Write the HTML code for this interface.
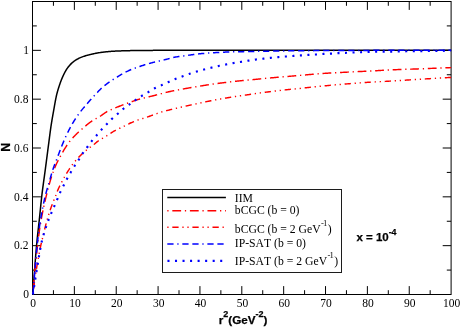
<!DOCTYPE html>
<html><head><meta charset="utf-8"><title>N vs r^2</title>
<style>
html,body{margin:0;padding:0;background:#fff;}
body{width:461px;height:327px;overflow:hidden;position:relative;font-family:"Liberation Sans",sans-serif;}
svg text{white-space:pre;font-kerning:none;}
</style></head><body>
<svg width="461" height="327" viewBox="0 0 461 327" style="position:absolute;left:0;top:0;will-change:transform">
<defs><clipPath id="c"><rect x="31.50" y="1.50" width="420.10" height="293.50"/></clipPath></defs>
<g stroke="#000" stroke-width="1" fill="none" shape-rendering="auto">
<rect x="32.50" y="1.50" width="418.60" height="293.00"/>
<path d="M53.43,294.50 v-4.30 M53.43,1.50 v4.30 M74.36,294.50 v-8.40 M74.36,1.50 v8.40 M95.29,294.50 v-4.30 M95.29,1.50 v4.30 M116.22,294.50 v-8.40 M116.22,1.50 v8.40 M137.15,294.50 v-4.30 M137.15,1.50 v4.30 M158.08,294.50 v-8.40 M158.08,1.50 v8.40 M179.01,294.50 v-4.30 M179.01,1.50 v4.30 M199.94,294.50 v-8.40 M199.94,1.50 v8.40 M220.87,294.50 v-4.30 M220.87,1.50 v4.30 M241.80,294.50 v-8.40 M241.80,1.50 v8.40 M262.73,294.50 v-4.30 M262.73,1.50 v4.30 M283.66,294.50 v-8.40 M283.66,1.50 v8.40 M304.59,294.50 v-4.30 M304.59,1.50 v4.30 M325.52,294.50 v-8.40 M325.52,1.50 v8.40 M346.45,294.50 v-4.30 M346.45,1.50 v4.30 M367.38,294.50 v-8.40 M367.38,1.50 v8.40 M388.31,294.50 v-4.30 M388.31,1.50 v4.30 M409.24,294.50 v-8.40 M409.24,1.50 v8.40 M430.17,294.50 v-4.30 M430.17,1.50 v4.30 M32.50,270.08 h4.30 M451.10,270.08 h-4.30 M32.50,245.67 h8.40 M451.10,245.67 h-8.40 M32.50,221.25 h4.30 M451.10,221.25 h-4.30 M32.50,196.83 h8.40 M451.10,196.83 h-8.40 M32.50,172.42 h4.30 M451.10,172.42 h-4.30 M32.50,148.00 h8.40 M451.10,148.00 h-8.40 M32.50,123.58 h4.30 M451.10,123.58 h-4.30 M32.50,99.17 h8.40 M451.10,99.17 h-8.40 M32.50,74.75 h4.30 M451.10,74.75 h-4.30 M32.50,50.33 h8.40 M451.10,50.33 h-8.40 M32.50,25.92 h4.30 M451.10,25.92 h-4.30"/>
</g>
<g clip-path="url(#c)" fill="none" stroke-linecap="butt" stroke-linejoin="round">
<path d="M32.90,294.50 L32.94,293.81 L32.99,293.13 L33.03,292.44 L33.08,291.75 L33.12,291.07 L33.17,290.38 L33.21,289.69 L33.26,289.01 L33.30,288.32 L33.35,287.63 L33.39,286.95 L33.44,286.26 L33.49,285.57 L33.53,284.89 L33.58,284.20 L33.63,283.52 L33.67,282.83 L33.72,282.14 L33.77,281.46 L33.82,280.77 L33.86,280.08 L33.91,279.40 L33.96,278.71 L34.01,278.02 L34.06,277.34 L34.11,276.65 L34.16,275.97 L34.21,275.28 L34.26,274.59 L34.31,273.91 L34.36,273.22 L34.41,272.53 L34.46,271.85 L34.51,271.16 L34.56,270.48 L34.61,269.79 L34.66,269.10 L34.71,268.42 L34.76,267.73 L34.81,267.05 L34.86,266.36 L34.92,265.67 L34.97,264.99 L35.02,264.30 L35.07,263.61 L35.12,262.93 L35.17,262.24 L35.23,261.56 L35.28,260.87 L35.33,260.18 L35.39,259.50 L35.44,258.81 L35.49,258.13 L35.55,257.44 L35.60,256.75 L35.66,256.07 L35.71,255.38 L35.77,254.70 L35.82,254.01 L35.88,253.33 L35.94,252.64 L35.99,251.95 L36.05,251.27 L36.11,250.58 L36.17,249.90 L36.23,249.21 L36.28,248.53 L36.34,247.84 L36.41,247.16 L36.47,246.47 L36.53,245.79 L36.59,245.10 L36.65,244.42 L36.72,243.73 L36.78,243.05 L36.85,242.36 L36.92,241.68 L36.98,240.99 L37.05,240.31 L37.12,239.62 L37.19,238.94 L37.26,238.25 L37.34,237.57 L37.41,236.89 L37.48,236.20 L37.56,235.52 L37.63,234.83 L37.70,234.15 L37.78,233.47 L37.85,232.78 L37.93,232.10 L38.01,231.41 L38.08,230.73 L38.16,230.05 L38.23,229.36 L38.31,228.68 L38.39,227.99 L38.46,227.31 L38.54,226.63 L38.62,225.94 L38.69,225.26 L38.77,224.58 L38.85,223.89 L38.92,223.21 L39.00,222.52 L39.07,221.84 L39.15,221.16 L39.22,220.47 L39.30,219.79 L39.37,219.10 L39.44,218.42 L39.52,217.74 L39.59,217.05 L39.66,216.37 L39.73,215.68 L39.80,215.00 L39.87,214.31 L39.94,213.63 L40.01,212.94 L40.08,212.26 L40.15,211.58 L40.22,210.89 L40.29,210.21 L40.36,209.52 L40.43,208.84 L40.50,208.15 L40.56,207.47 L40.63,206.78 L40.70,206.10 L40.77,205.41 L40.84,204.73 L40.91,204.04 L40.98,203.36 L41.06,202.68 L41.13,201.99 L41.20,201.31 L41.27,200.62 L41.35,199.94 L41.42,199.26 L41.49,198.57 L41.57,197.89 L41.65,197.20 L41.72,196.52 L41.80,195.84 L41.88,195.15 L41.96,194.47 L42.04,193.79 L42.13,193.11 L42.21,192.42 L42.29,191.74 L42.38,191.06 L42.47,190.37 L42.55,189.69 L42.64,189.01 L42.73,188.33 L42.82,187.65 L42.91,186.96 L43.00,186.28 L43.10,185.60 L43.19,184.92 L43.28,184.24 L43.37,183.55 L43.47,182.87 L43.56,182.19 L43.65,181.51 L43.75,180.83 L43.84,180.15 L43.94,179.46 L44.03,178.78 L44.13,178.10 L44.22,177.42 L44.32,176.74 L44.41,176.06 L44.50,175.38 L44.60,174.69 L44.69,174.01 L44.79,173.33 L44.88,172.65 L44.97,171.97 L45.06,171.28 L45.15,170.60 L45.24,169.92 L45.33,169.24 L45.42,168.56 L45.51,167.87 L45.60,167.19 L45.69,166.51 L45.78,165.83 L45.87,165.15 L45.96,164.46 L46.05,163.78 L46.14,163.10 L46.23,162.42 L46.32,161.73 L46.40,161.05 L46.49,160.37 L46.58,159.69 L46.67,159.00 L46.76,158.32 L46.85,157.64 L46.94,156.96 L47.03,156.28 L47.11,155.59 L47.20,154.91 L47.29,154.23 L47.38,153.55 L47.47,152.86 L47.56,152.18 L47.65,151.50 L47.74,150.82 L47.82,150.14 L47.91,149.45 L48.00,148.77 L48.09,148.09 L48.18,147.41 L48.27,146.72 L48.36,146.04 L48.45,145.36 L48.54,144.68 L48.63,144.00 L48.72,143.31 L48.81,142.63 L48.90,141.95 L48.99,141.27 L49.07,140.58 L49.16,139.90 L49.25,139.22 L49.34,138.54 L49.43,137.85 L49.51,137.17 L49.60,136.49 L49.69,135.81 L49.78,135.12 L49.87,134.44 L49.96,133.76 L50.05,133.08 L50.14,132.40 L50.23,131.71 L50.32,131.03 L50.42,130.35 L50.51,129.67 L50.61,128.99 L50.70,128.31 L50.80,127.63 L50.90,126.94 L51.00,126.26 L51.10,125.58 L51.21,124.90 L51.31,124.22 L51.42,123.54 L51.53,122.87 L51.63,122.19 L51.75,121.51 L51.86,120.83 L51.97,120.15 L52.09,119.47 L52.20,118.79 L52.32,118.11 L52.43,117.44 L52.55,116.76 L52.67,116.08 L52.79,115.40 L52.91,114.73 L53.03,114.05 L53.15,113.37 L53.27,112.69 L53.39,112.02 L53.51,111.34 L53.64,110.66 L53.76,109.98 L53.88,109.31 L54.00,108.63 L54.11,107.95 L54.23,107.27 L54.35,106.59 L54.47,105.91 L54.59,105.24 L54.71,104.56 L54.83,103.88 L54.95,103.20 L55.07,102.52 L55.20,101.84 L55.32,101.17 L55.45,100.49 L55.58,99.82 L55.71,99.14 L55.85,98.47 L55.99,97.79 L56.13,97.12 L56.27,96.45 L56.42,95.78 L56.57,95.11 L56.73,94.44 L56.90,93.78 L57.07,93.11 L57.24,92.45 L57.43,91.78 L57.61,91.12 L57.81,90.46 L58.00,89.79 L58.20,89.13 L58.40,88.48 L58.61,87.82 L58.82,87.16 L59.03,86.51 L59.24,85.86 L59.46,85.21 L59.68,84.55 L59.91,83.90 L60.13,83.25 L60.37,82.60 L60.60,81.95 L60.84,81.30 L61.09,80.66 L61.33,80.01 L61.59,79.37 L61.85,78.74 L62.11,78.10 L62.38,77.47 L62.66,76.84 L62.94,76.22 L63.22,75.60 L63.52,74.97 L63.82,74.35 L64.12,73.73 L64.44,73.11 L64.76,72.49 L65.08,71.88 L65.42,71.27 L65.77,70.67 L66.12,70.08 L66.48,69.49 L66.85,68.92 L67.23,68.36 L67.62,67.81 L68.02,67.26 L68.45,66.72 L68.88,66.18 L69.33,65.65 L69.80,65.13 L70.27,64.61 L70.76,64.11 L71.25,63.62 L71.75,63.15 L72.26,62.69 L72.78,62.26 L73.31,61.84 L73.84,61.42 L74.40,61.01 L74.96,60.61 L75.54,60.22 L76.13,59.84 L76.72,59.48 L77.33,59.13 L77.94,58.79 L78.55,58.47 L79.16,58.17 L79.78,57.89 L80.40,57.62 L81.03,57.36 L81.66,57.11 L82.31,56.87 L82.96,56.64 L83.61,56.41 L84.27,56.19 L84.93,55.98 L85.60,55.78 L86.26,55.58 L86.93,55.39 L87.59,55.21 L88.26,55.04 L88.92,54.86 L89.59,54.70 L90.25,54.53 L90.92,54.37 L91.59,54.22 L92.26,54.06 L92.94,53.91 L93.61,53.76 L94.28,53.62 L94.96,53.48 L95.64,53.34 L96.31,53.21 L96.99,53.09 L97.67,52.96 L98.35,52.85 L99.03,52.74 L99.71,52.63 L100.39,52.53 L101.07,52.43 L101.75,52.34 L102.43,52.25 L103.11,52.17 L103.79,52.09 L104.48,52.01 L105.16,51.93 L105.85,51.86 L106.53,51.79 L107.22,51.73 L107.90,51.66 L108.59,51.60 L109.28,51.54 L109.96,51.48 L110.65,51.42 L111.33,51.37 L112.02,51.31 L112.70,51.26 L113.39,51.21 L114.08,51.16 L114.76,51.13 L115.45,51.09 L116.14,51.06 L116.83,51.04 L117.51,51.01 L118.20,50.98 L118.89,50.96 L119.57,50.93 L120.26,50.91 L120.95,50.88 L121.64,50.86 L122.33,50.84 L123.01,50.82 L123.70,50.79 L124.39,50.77 L125.08,50.75 L125.76,50.74 L126.45,50.72 L127.14,50.70 L127.83,50.68 L128.52,50.66 L129.20,50.65 L129.89,50.63 L130.58,50.62 L131.27,50.61 L131.96,50.59 L132.64,50.58 L133.33,50.57 L134.02,50.56 L134.71,50.54 L135.40,50.53 L136.09,50.53 L136.77,50.52 L137.46,50.51 L138.15,50.50 L138.84,50.49 L139.52,50.49 L140.21,50.48 L140.90,50.47 L141.59,50.47 L142.28,50.46 L142.96,50.45 L143.65,50.45 L144.34,50.44 L145.03,50.44 L145.72,50.43 L146.40,50.42 L147.09,50.42 L147.78,50.41 L148.47,50.41 L149.16,50.40 L149.84,50.40 L150.53,50.39 L151.22,50.39 L151.91,50.38 L152.60,50.38 L153.28,50.37 L153.97,50.37 L154.66,50.36 L155.35,50.36 L156.04,50.36 L156.72,50.35 L157.41,50.35 L158.10,50.35 L158.79,50.34 L159.48,50.34 L160.17,50.34 L160.85,50.33 L161.54,50.33 L162.23,50.33 L162.92,50.32 L163.61,50.32 L164.29,50.32 L164.98,50.32 L165.67,50.31 L166.36,50.31 L167.05,50.31 L167.73,50.31 L168.42,50.30 L169.11,50.30 L169.80,50.30 L170.49,50.30 L171.17,50.30 L171.86,50.30 L172.55,50.29 L173.24,50.29 L173.93,50.29 L174.61,50.29 L175.30,50.29 L175.99,50.29 L176.68,50.28 L177.37,50.28 L178.05,50.28 L178.74,50.28 L179.43,50.28 L180.12,50.28 L180.81,50.27 L181.49,50.27 L182.18,50.27 L182.87,50.27 L183.56,50.27 L184.25,50.27 L184.93,50.27 L185.62,50.26 L186.31,50.26 L187.00,50.26 L187.69,50.26 L188.37,50.26 L189.06,50.26 L189.75,50.26 L190.44,50.26 L191.13,50.25 L191.81,50.25 L192.50,50.25 L193.19,50.25 L193.88,50.25 L194.57,50.25 L195.25,50.25 L195.94,50.25 L196.63,50.24 L197.32,50.24 L198.01,50.24 L198.69,50.24 L199.38,50.24 L200.07,50.24 L200.76,50.24 L201.45,50.24 L202.13,50.24 L202.82,50.24 L203.51,50.23 L204.20,50.23 L204.89,50.23 L205.57,50.23 L206.26,50.23 L206.95,50.23 L207.64,50.23 L208.33,50.23 L209.01,50.23 L209.70,50.23 L210.39,50.22 L211.08,50.22 L211.77,50.22 L212.46,50.22 L213.14,50.22 L213.83,50.22 L214.52,50.22 L215.21,50.22 L215.90,50.22 L216.58,50.22 L217.27,50.22 L217.96,50.22 L218.65,50.22 L219.34,50.21 L220.02,50.21 L220.71,50.21 L221.40,50.21 L222.09,50.21 L222.78,50.21 L223.46,50.21 L224.15,50.21 L224.84,50.21 L225.53,50.21 L226.22,50.21 L226.90,50.21 L227.59,50.21 L228.28,50.21 L228.97,50.21 L229.66,50.21 L230.34,50.21 L231.03,50.21 L231.72,50.20 L232.41,50.20 L233.10,50.20 L233.78,50.20 L234.47,50.20 L235.16,50.20 L235.85,50.20 L236.54,50.20 L237.22,50.20 L237.91,50.20 L238.60,50.20 L239.29,50.20 L239.98,50.20 L240.66,50.20 L241.35,50.20 L242.04,50.20 L242.73,50.20 L243.42,50.20 L244.10,50.20 L244.79,50.20 L245.48,50.20 L246.17,50.20 L246.86,50.20 L247.54,50.20 L248.23,50.20 L248.92,50.20 L249.61,50.20 L250.30,50.20 L250.98,50.20 L251.67,50.19 L252.36,50.19 L253.05,50.19 L253.74,50.19 L254.42,50.19 L255.11,50.19 L255.80,50.19 L256.49,50.19 L257.18,50.19 L257.86,50.19 L258.55,50.19 L259.24,50.19 L259.93,50.19 L260.62,50.19 L261.30,50.19 L261.99,50.19 L262.68,50.19 L263.37,50.19 L264.06,50.19 L264.75,50.19 L265.43,50.19 L266.12,50.19 L266.81,50.19 L267.50,50.19 L268.19,50.19 L268.87,50.19 L269.56,50.19 L270.25,50.19 L270.94,50.19 L271.63,50.19 L272.31,50.19 L273.00,50.19 L273.69,50.19 L274.38,50.19 L275.07,50.19 L275.75,50.18 L276.44,50.18 L277.13,50.18 L277.82,50.18 L278.51,50.18 L279.19,50.18 L279.88,50.18 L280.57,50.18 L281.26,50.18 L281.95,50.18 L282.63,50.18 L283.32,50.18 L284.01,50.18 L284.70,50.18 L285.39,50.18 L286.07,50.18 L286.76,50.18 L287.45,50.18 L288.14,50.18 L288.83,50.18 L289.51,50.18 L290.20,50.18 L290.89,50.18 L291.58,50.18 L292.27,50.18 L292.95,50.18 L293.64,50.18 L294.33,50.18 L295.02,50.18 L295.71,50.18 L296.39,50.18 L297.08,50.18 L297.77,50.18 L298.46,50.18 L299.15,50.18 L299.83,50.18 L300.52,50.18 L301.21,50.18 L301.90,50.18 L302.59,50.18 L303.27,50.17 L303.96,50.17 L304.65,50.17 L305.34,50.17 L306.03,50.17 L306.71,50.17 L307.40,50.17 L308.09,50.17 L308.78,50.17 L309.47,50.17 L310.15,50.17 L310.84,50.17 L311.53,50.17 L312.22,50.17 L312.91,50.17 L313.59,50.17 L314.28,50.17 L314.97,50.17 L315.66,50.17 L316.35,50.17 L317.03,50.17 L317.72,50.17 L318.41,50.17 L319.10,50.17 L319.79,50.17 L320.48,50.17 L321.16,50.17 L321.85,50.17 L322.54,50.17 L323.23,50.17 L323.92,50.17 L324.60,50.17 L325.29,50.17 L325.98,50.17 L326.67,50.17 L327.36,50.17 L328.04,50.17 L328.73,50.17 L329.42,50.17 L330.11,50.17 L330.80,50.17 L331.48,50.17 L332.17,50.17 L332.86,50.17 L333.55,50.17 L334.24,50.17 L334.92,50.17 L335.61,50.17 L336.30,50.17 L336.99,50.16 L337.68,50.16 L338.36,50.16 L339.05,50.16 L339.74,50.16 L340.43,50.16 L341.12,50.16 L341.80,50.16 L342.49,50.16 L343.18,50.16 L343.87,50.16 L344.56,50.16 L345.24,50.16 L345.93,50.16 L346.62,50.16 L347.31,50.16 L348.00,50.16 L348.68,50.16 L349.37,50.16 L350.06,50.16 L350.75,50.16 L351.44,50.16 L352.12,50.16 L352.81,50.16 L353.50,50.16 L354.19,50.16 L354.88,50.16 L355.56,50.16 L356.25,50.16 L356.94,50.16 L357.63,50.16 L358.32,50.16 L359.00,50.16 L359.69,50.16 L360.38,50.16 L361.07,50.16 L361.76,50.16 L362.44,50.16 L363.13,50.16 L363.82,50.16 L364.51,50.16 L365.20,50.16 L365.88,50.16 L366.57,50.16 L367.26,50.16 L367.95,50.16 L368.64,50.16 L369.32,50.16 L370.01,50.16 L370.70,50.16 L371.39,50.16 L372.08,50.16 L372.77,50.16 L373.45,50.16 L374.14,50.16 L374.83,50.16 L375.52,50.16 L376.21,50.16 L376.89,50.16 L377.58,50.16 L378.27,50.16 L378.96,50.16 L379.65,50.16 L380.33,50.16 L381.02,50.16 L381.71,50.16 L382.40,50.16 L383.09,50.16 L383.77,50.16 L384.46,50.16 L385.15,50.16 L385.84,50.15 L386.53,50.15 L387.21,50.15 L387.90,50.15 L388.59,50.15 L389.28,50.15 L389.97,50.15 L390.65,50.15 L391.34,50.15 L392.03,50.15 L392.72,50.15 L393.41,50.15 L394.09,50.15 L394.78,50.15 L395.47,50.15 L396.16,50.15 L396.85,50.15 L397.53,50.15 L398.22,50.15 L398.91,50.15 L399.60,50.15 L400.29,50.15 L400.97,50.15 L401.66,50.15 L402.35,50.15 L403.04,50.15 L403.73,50.15 L404.41,50.15 L405.10,50.15 L405.79,50.15 L406.48,50.15 L407.17,50.15 L407.85,50.15 L408.54,50.15 L409.23,50.15 L409.92,50.15 L410.61,50.15 L411.29,50.15 L411.98,50.15 L412.67,50.15 L413.36,50.15 L414.05,50.15 L414.73,50.15 L415.42,50.15 L416.11,50.15 L416.80,50.15 L417.49,50.15 L418.17,50.15 L418.86,50.15 L419.55,50.15 L420.24,50.15 L420.93,50.15 L421.61,50.15 L422.30,50.15 L422.99,50.15 L423.68,50.15 L424.37,50.15 L425.06,50.15 L425.74,50.15 L426.43,50.15 L427.12,50.15 L427.81,50.15 L428.50,50.15 L429.18,50.15 L429.87,50.15 L430.56,50.15 L431.25,50.15 L431.94,50.15 L432.62,50.15 L433.31,50.15 L434.00,50.15 L434.69,50.15 L435.38,50.15 L436.06,50.15 L436.75,50.15 L437.44,50.15 L438.13,50.15 L438.82,50.15 L439.50,50.15 L440.19,50.15 L440.88,50.15 L441.57,50.15 L442.26,50.15 L442.94,50.15 L443.63,50.15 L444.32,50.15 L445.01,50.15 L445.70,50.15 L446.38,50.15 L447.07,50.15 L447.76,50.15 L448.45,50.15 L449.14,50.15 L449.82,50.15 L450.51,50.15 L451.20,50.15" stroke="#000" stroke-width="1.5"/>
<path d="M32.90,294.50 L32.94,293.88 L32.98,293.26 L33.01,292.65 L33.05,292.03 L33.09,291.41 L33.13,290.79 L33.17,290.18 L33.22,289.56 L33.26,288.94 L33.30,288.32 L33.34,287.71 L33.39,287.09 L33.43,286.47 L33.48,285.86 L33.52,285.24 L33.57,284.62 L33.61,284.00 L33.66,283.39 L33.71,282.77 L33.76,282.15 L33.80,281.54 L33.85,280.92 L33.90,280.30 L33.95,279.69 L34.00,279.07 L34.05,278.45 L34.10,277.84 L34.16,277.22 L34.21,276.60 L34.26,275.99 L34.31,275.37 L34.37,274.76 L34.42,274.14 L34.47,273.52 L34.53,272.91 L34.58,272.29 L34.64,271.68 L34.69,271.06 L34.75,270.44 L34.81,269.83 L34.86,269.21 L34.92,268.60 L34.98,267.98 L35.04,267.36 L35.10,266.75 L35.16,266.13 L35.23,265.52 L35.29,264.90 L35.35,264.29 L35.42,263.67 L35.48,263.06 L35.55,262.44 L35.62,261.83 L35.69,261.21 L35.75,260.60 L35.82,259.98 L35.89,259.37 L35.96,258.75 L36.03,258.14 L36.10,257.52 L36.17,256.91 L36.25,256.29 L36.32,255.68 L36.39,255.07 L36.46,254.45 L36.54,253.84 L36.61,253.22 L36.68,252.61 L36.76,251.99 L36.83,251.38 L36.91,250.76 L36.98,250.15 L37.05,249.54 L37.13,248.92 L37.20,248.31 L37.28,247.69 L37.35,247.08 L37.42,246.46 L37.50,245.85 L37.57,245.24 L37.65,244.62 L37.72,244.01 L37.79,243.39 L37.86,242.78 L37.94,242.16 L38.01,241.55 L38.08,240.94 L38.16,240.32 L38.23,239.71 L38.30,239.09 L38.38,238.48 L38.45,237.86 L38.53,237.25 L38.61,236.63 L38.68,236.02 L38.76,235.41 L38.84,234.79 L38.92,234.18 L39.00,233.57 L39.08,232.95 L39.17,232.34 L39.25,231.73 L39.34,231.12 L39.43,230.50 L39.52,229.89 L39.61,229.28 L39.70,228.67 L39.79,228.06 L39.89,227.45 L39.98,226.84 L40.08,226.23 L40.18,225.62 L40.28,225.00 L40.38,224.39 L40.48,223.78 L40.59,223.17 L40.69,222.56 L40.80,221.95 L40.90,221.34 L41.01,220.73 L41.12,220.12 L41.23,219.52 L41.34,218.91 L41.45,218.30 L41.57,217.69 L41.68,217.08 L41.79,216.47 L41.91,215.86 L42.03,215.26 L42.14,214.65 L42.26,214.04 L42.38,213.43 L42.50,212.83 L42.62,212.22 L42.74,211.61 L42.86,211.01 L42.98,210.40 L43.10,209.80 L43.23,209.19 L43.35,208.58 L43.48,207.98 L43.61,207.37 L43.74,206.77 L43.87,206.16 L44.00,205.56 L44.14,204.96 L44.27,204.35 L44.41,203.75 L44.55,203.14 L44.68,202.54 L44.82,201.94 L44.96,201.34 L45.11,200.73 L45.25,200.13 L45.39,199.53 L45.54,198.93 L45.68,198.33 L45.83,197.72 L45.98,197.12 L46.12,196.52 L46.27,195.92 L46.42,195.32 L46.57,194.72 L46.72,194.12 L46.87,193.52 L47.02,192.92 L47.17,192.32 L47.32,191.72 L47.47,191.12 L47.62,190.52 L47.78,189.92 L47.93,189.32 L48.09,188.72 L48.24,188.12 L48.40,187.52 L48.56,186.92 L48.72,186.32 L48.88,185.72 L49.04,185.13 L49.20,184.53 L49.37,183.93 L49.53,183.34 L49.70,182.74 L49.87,182.15 L50.04,181.55 L50.22,180.96 L50.39,180.36 L50.57,179.77 L50.75,179.18 L50.93,178.59 L51.11,178.00 L51.30,177.41 L51.49,176.83 L51.68,176.24 L51.87,175.65 L52.07,175.07 L52.27,174.48 L52.47,173.90 L52.68,173.31 L52.89,172.73 L53.10,172.14 L53.31,171.56 L53.53,170.98 L53.75,170.40 L53.97,169.82 L54.20,169.24 L54.42,168.67 L54.66,168.09 L54.89,167.52 L55.12,166.95 L55.36,166.38 L55.61,165.81 L55.85,165.24 L56.10,164.68 L56.35,164.12 L56.61,163.56 L56.87,163.00 L57.14,162.44 L57.42,161.89 L57.69,161.33 L57.98,160.78 L58.26,160.23 L58.55,159.68 L58.84,159.14 L59.13,158.59 L59.43,158.04 L59.72,157.50 L60.02,156.96 L60.32,156.41 L60.61,155.87 L60.91,155.33 L61.21,154.79 L61.51,154.25 L61.81,153.71 L62.12,153.17 L62.42,152.63 L62.73,152.09 L63.04,151.55 L63.35,151.02 L63.67,150.49 L63.98,149.95 L64.30,149.42 L64.62,148.89 L64.94,148.36 L65.27,147.84 L65.60,147.31 L65.93,146.79 L66.26,146.27 L66.60,145.75 L66.94,145.24 L67.28,144.72 L67.63,144.21 L67.99,143.70 L68.34,143.20 L68.71,142.70 L69.08,142.20 L69.46,141.71 L69.84,141.23 L70.23,140.75 L70.62,140.27 L71.02,139.80 L71.43,139.34 L71.84,138.87 L72.25,138.41 L72.67,137.95 L73.09,137.50 L73.52,137.04 L73.94,136.59 L74.37,136.15 L74.81,135.70 L75.24,135.26 L75.68,134.83 L76.11,134.39 L76.55,133.96 L76.99,133.53 L77.44,133.10 L77.89,132.67 L78.34,132.25 L78.80,131.83 L79.26,131.41 L79.72,131.00 L80.18,130.59 L80.64,130.18 L81.11,129.77 L81.57,129.36 L82.04,128.95 L82.51,128.55 L82.98,128.15 L83.45,127.74 L83.92,127.34 L84.39,126.94 L84.86,126.54 L85.33,126.13 L85.81,125.73 L86.28,125.33 L86.76,124.93 L87.24,124.54 L87.72,124.15 L88.20,123.76 L88.69,123.38 L89.18,123.00 L89.67,122.63 L90.17,122.26 L90.67,121.90 L91.17,121.55 L91.68,121.21 L92.20,120.88 L92.72,120.55 L93.25,120.23 L93.78,119.92 L94.32,119.61 L94.86,119.30 L95.40,119.00 L95.94,118.70 L96.48,118.39 L97.03,118.09 L97.57,117.79 L98.11,117.48 L98.64,117.17 L99.18,116.85 L99.70,116.53 L100.23,116.21 L100.75,115.87 L101.26,115.52 L101.77,115.17 L102.28,114.81 L102.79,114.45 L103.30,114.09 L103.80,113.73 L104.31,113.37 L104.82,113.02 L105.33,112.67 L105.85,112.33 L106.37,112.01 L106.90,111.69 L107.43,111.39 L107.97,111.10 L108.52,110.83 L109.07,110.56 L109.63,110.29 L110.19,110.04 L110.76,109.79 L111.33,109.54 L111.90,109.30 L112.48,109.06 L113.05,108.82 L113.63,108.59 L114.20,108.35 L114.77,108.12 L115.35,107.88 L115.92,107.64 L116.49,107.41 L117.06,107.18 L117.64,106.94 L118.21,106.72 L118.79,106.49 L119.36,106.26 L119.94,106.04 L120.52,105.81 L121.09,105.59 L121.67,105.37 L122.25,105.15 L122.83,104.93 L123.41,104.71 L123.98,104.49 L124.56,104.28 L125.15,104.06 L125.73,103.85 L126.31,103.64 L126.89,103.42 L127.47,103.21 L128.05,103.01 L128.64,102.80 L129.22,102.59 L129.80,102.38 L130.38,102.18 L130.97,101.97 L131.55,101.76 L132.13,101.55 L132.72,101.34 L133.30,101.14 L133.88,100.93 L134.47,100.72 L135.05,100.52 L135.64,100.32 L136.22,100.12 L136.81,99.93 L137.40,99.74 L137.99,99.56 L138.58,99.39 L139.18,99.22 L139.77,99.05 L140.37,98.89 L140.97,98.73 L141.57,98.58 L142.17,98.42 L142.77,98.27 L143.37,98.12 L143.97,97.98 L144.57,97.83 L145.17,97.68 L145.77,97.53 L146.37,97.38 L146.97,97.24 L147.58,97.10 L148.18,96.95 L148.78,96.81 L149.38,96.67 L149.99,96.54 L150.59,96.40 L151.19,96.26 L151.79,96.11 L152.40,95.97 L153.00,95.82 L153.60,95.68 L154.20,95.52 L154.80,95.37 L155.39,95.21 L155.99,95.06 L156.59,94.90 L157.19,94.74 L157.79,94.58 L158.38,94.41 L158.98,94.25 L159.58,94.10 L160.18,93.94 L160.78,93.78 L161.38,93.63 L161.97,93.48 L162.57,93.32 L163.17,93.17 L163.77,93.01 L164.37,92.86 L164.97,92.70 L165.57,92.55 L166.17,92.40 L166.77,92.25 L167.37,92.11 L167.97,91.96 L168.58,91.82 L169.18,91.68 L169.78,91.55 L170.39,91.42 L170.99,91.29 L171.60,91.16 L172.20,91.04 L172.81,90.91 L173.41,90.79 L174.02,90.67 L174.63,90.55 L175.24,90.43 L175.84,90.32 L176.45,90.20 L177.06,90.09 L177.67,89.97 L178.28,89.86 L178.89,89.75 L179.49,89.64 L180.10,89.53 L180.71,89.42 L181.32,89.31 L181.93,89.20 L182.54,89.09 L183.15,88.98 L183.76,88.88 L184.37,88.77 L184.98,88.66 L185.59,88.55 L186.19,88.44 L186.80,88.33 L187.41,88.22 L188.02,88.12 L188.63,88.01 L189.24,87.90 L189.85,87.80 L190.46,87.69 L191.07,87.59 L191.68,87.48 L192.29,87.38 L192.90,87.27 L193.51,87.17 L194.12,87.07 L194.73,86.96 L195.34,86.86 L195.95,86.76 L196.56,86.66 L197.17,86.56 L197.78,86.46 L198.39,86.36 L199.00,86.26 L199.61,86.16 L200.22,86.06 L200.83,85.96 L201.44,85.86 L202.06,85.77 L202.67,85.67 L203.28,85.57 L203.89,85.48 L204.50,85.38 L205.11,85.28 L205.72,85.19 L206.33,85.09 L206.95,85.00 L207.56,84.90 L208.17,84.81 L208.78,84.72 L209.39,84.62 L210.00,84.53 L210.62,84.44 L211.23,84.35 L211.84,84.26 L212.45,84.17 L213.06,84.08 L213.68,84.00 L214.29,83.91 L214.90,83.82 L215.51,83.74 L216.13,83.66 L216.74,83.57 L217.35,83.49 L217.97,83.41 L218.58,83.33 L219.19,83.25 L219.81,83.17 L220.42,83.09 L221.03,83.01 L221.65,82.94 L222.26,82.86 L222.88,82.78 L223.49,82.71 L224.10,82.63 L224.72,82.56 L225.33,82.48 L225.95,82.41 L226.56,82.34 L227.18,82.26 L227.79,82.19 L228.40,82.12 L229.02,82.05 L229.63,81.97 L230.25,81.90 L230.86,81.83 L231.48,81.76 L232.09,81.68 L232.71,81.61 L233.32,81.54 L233.93,81.47 L234.55,81.40 L235.16,81.33 L235.78,81.26 L236.39,81.19 L237.01,81.12 L237.62,81.05 L238.24,80.98 L238.85,80.92 L239.47,80.85 L240.08,80.79 L240.70,80.73 L241.31,80.67 L241.93,80.61 L242.55,80.55 L243.16,80.49 L243.78,80.43 L244.39,80.38 L245.01,80.32 L245.63,80.27 L246.24,80.21 L246.86,80.16 L247.48,80.10 L248.09,80.05 L248.71,79.99 L249.32,79.94 L249.94,79.89 L250.56,79.83 L251.17,79.78 L251.79,79.72 L252.41,79.67 L253.02,79.61 L253.64,79.55 L254.25,79.50 L254.87,79.44 L255.49,79.38 L256.10,79.32 L256.72,79.26 L257.33,79.20 L257.95,79.14 L258.56,79.08 L259.18,79.02 L259.80,78.96 L260.41,78.90 L261.03,78.84 L261.64,78.77 L262.26,78.71 L262.87,78.65 L263.49,78.59 L264.10,78.53 L264.72,78.47 L265.34,78.40 L265.95,78.34 L266.57,78.28 L267.18,78.22 L267.80,78.16 L268.41,78.10 L269.03,78.05 L269.65,77.99 L270.26,77.93 L270.88,77.87 L271.49,77.82 L272.11,77.76 L272.73,77.71 L273.34,77.66 L273.96,77.60 L274.58,77.55 L275.19,77.50 L275.81,77.44 L276.43,77.39 L277.04,77.34 L277.66,77.29 L278.27,77.24 L278.89,77.19 L279.51,77.13 L280.12,77.08 L280.74,77.03 L281.36,76.98 L281.97,76.93 L282.59,76.88 L283.21,76.83 L283.82,76.78 L284.44,76.72 L285.06,76.67 L285.67,76.62 L286.29,76.57 L286.91,76.51 L287.52,76.46 L288.14,76.41 L288.76,76.36 L289.37,76.31 L289.99,76.25 L290.60,76.20 L291.22,76.15 L291.84,76.10 L292.45,76.04 L293.07,75.99 L293.69,75.94 L294.30,75.89 L294.92,75.83 L295.54,75.78 L296.15,75.73 L296.77,75.68 L297.39,75.62 L298.00,75.57 L298.62,75.52 L299.23,75.46 L299.85,75.41 L300.47,75.36 L301.08,75.30 L301.70,75.25 L302.32,75.19 L302.93,75.14 L303.55,75.08 L304.16,75.02 L304.78,74.97 L305.40,74.91 L306.01,74.85 L306.63,74.80 L307.24,74.74 L307.86,74.69 L308.48,74.63 L309.09,74.58 L309.71,74.52 L310.33,74.47 L310.94,74.42 L311.56,74.37 L312.18,74.32 L312.79,74.26 L313.41,74.21 L314.02,74.16 L314.64,74.11 L315.26,74.06 L315.87,74.00 L316.49,73.95 L317.11,73.90 L317.72,73.85 L318.34,73.80 L318.96,73.75 L319.57,73.71 L320.19,73.66 L320.81,73.61 L321.43,73.57 L322.04,73.52 L322.66,73.48 L323.28,73.43 L323.89,73.39 L324.51,73.35 L325.13,73.31 L325.75,73.27 L326.36,73.23 L326.98,73.20 L327.60,73.16 L328.22,73.13 L328.83,73.09 L329.45,73.06 L330.07,73.03 L330.69,72.99 L331.30,72.96 L331.92,72.93 L332.54,72.90 L333.16,72.87 L333.78,72.84 L334.39,72.81 L335.01,72.78 L335.63,72.75 L336.25,72.72 L336.87,72.69 L337.48,72.66 L338.10,72.63 L338.72,72.60 L339.34,72.57 L339.96,72.53 L340.57,72.50 L341.19,72.47 L341.81,72.44 L342.43,72.40 L343.04,72.37 L343.66,72.34 L344.28,72.31 L344.90,72.27 L345.52,72.24 L346.13,72.21 L346.75,72.17 L347.37,72.14 L347.99,72.11 L348.60,72.07 L349.22,72.04 L349.84,72.01 L350.46,71.98 L351.08,71.94 L351.69,71.91 L352.31,71.88 L352.93,71.85 L353.55,71.82 L354.16,71.79 L354.78,71.76 L355.40,71.72 L356.02,71.69 L356.64,71.66 L357.25,71.63 L357.87,71.61 L358.49,71.58 L359.11,71.55 L359.73,71.52 L360.34,71.49 L360.96,71.47 L361.58,71.44 L362.20,71.41 L362.82,71.38 L363.43,71.36 L364.05,71.33 L364.67,71.30 L365.29,71.28 L365.91,71.25 L366.52,71.22 L367.14,71.19 L367.76,71.16 L368.38,71.13 L369.00,71.10 L369.61,71.07 L370.23,71.04 L370.85,71.01 L371.47,70.98 L372.09,70.95 L372.70,70.91 L373.32,70.88 L373.94,70.84 L374.56,70.81 L375.17,70.77 L375.79,70.74 L376.41,70.70 L377.03,70.66 L377.64,70.62 L378.26,70.59 L378.88,70.55 L379.50,70.51 L380.11,70.47 L380.73,70.44 L381.35,70.40 L381.97,70.37 L382.58,70.33 L383.20,70.30 L383.82,70.26 L384.44,70.23 L385.06,70.20 L385.67,70.17 L386.29,70.13 L386.91,70.10 L387.53,70.07 L388.15,70.04 L388.76,70.01 L389.38,69.98 L390.00,69.95 L390.62,69.92 L391.23,69.89 L391.85,69.86 L392.47,69.83 L393.09,69.80 L393.71,69.78 L394.32,69.75 L394.94,69.72 L395.56,69.69 L396.18,69.67 L396.80,69.64 L397.42,69.62 L398.03,69.59 L398.65,69.56 L399.27,69.54 L399.89,69.52 L400.51,69.49 L401.12,69.47 L401.74,69.45 L402.36,69.42 L402.98,69.40 L403.60,69.38 L404.22,69.36 L404.83,69.34 L405.45,69.32 L406.07,69.30 L406.69,69.28 L407.31,69.26 L407.93,69.25 L408.54,69.23 L409.16,69.21 L409.78,69.19 L410.40,69.17 L411.02,69.15 L411.64,69.13 L412.25,69.11 L412.87,69.09 L413.49,69.07 L414.11,69.05 L414.73,69.03 L415.35,69.01 L415.96,68.99 L416.58,68.96 L417.20,68.94 L417.82,68.92 L418.44,68.90 L419.06,68.87 L419.67,68.85 L420.29,68.82 L420.91,68.80 L421.53,68.78 L422.15,68.75 L422.76,68.73 L423.38,68.70 L424.00,68.68 L424.62,68.65 L425.24,68.63 L425.86,68.60 L426.47,68.58 L427.09,68.55 L427.71,68.53 L428.33,68.50 L428.95,68.48 L429.56,68.45 L430.18,68.43 L430.80,68.40 L431.42,68.38 L432.04,68.36 L432.65,68.33 L433.27,68.31 L433.89,68.28 L434.51,68.26 L435.13,68.23 L435.75,68.21 L436.36,68.19 L436.98,68.16 L437.60,68.14 L438.22,68.11 L438.84,68.09 L439.45,68.06 L440.07,68.04 L440.69,68.01 L441.31,67.99 L441.93,67.97 L442.55,67.94 L443.16,67.92 L443.78,67.89 L444.40,67.87 L445.02,67.84 L445.64,67.82 L446.25,67.80 L446.87,67.77 L447.49,67.75 L448.11,67.72 L448.73,67.70 L449.35,67.67 L449.96,67.65 L450.58,67.62 L451.20,67.60" stroke="#f00" stroke-width="1.45" stroke-dasharray="8.787 3.766 1.255 3.766" stroke-dashoffset="11.96"/>
<path d="M32.90,294.50 L32.97,293.91 L33.04,293.32 L33.11,292.73 L33.18,292.14 L33.25,291.55 L33.32,290.96 L33.39,290.37 L33.47,289.78 L33.54,289.19 L33.62,288.60 L33.69,288.01 L33.77,287.42 L33.84,286.83 L33.92,286.24 L34.00,285.65 L34.08,285.06 L34.16,284.47 L34.24,283.88 L34.32,283.29 L34.40,282.70 L34.48,282.11 L34.56,281.52 L34.65,280.93 L34.73,280.35 L34.81,279.76 L34.90,279.17 L34.98,278.58 L35.07,277.99 L35.15,277.40 L35.24,276.82 L35.33,276.23 L35.42,275.64 L35.50,275.05 L35.59,274.47 L35.68,273.88 L35.77,273.29 L35.86,272.70 L35.95,272.12 L36.04,271.53 L36.14,270.94 L36.23,270.36 L36.32,269.77 L36.41,269.18 L36.51,268.60 L36.60,268.01 L36.70,267.42 L36.79,266.84 L36.89,266.25 L36.99,265.66 L37.09,265.08 L37.18,264.49 L37.28,263.90 L37.38,263.32 L37.48,262.73 L37.59,262.15 L37.69,261.56 L37.79,260.97 L37.89,260.39 L38.00,259.80 L38.10,259.22 L38.21,258.63 L38.32,258.05 L38.42,257.46 L38.53,256.88 L38.64,256.29 L38.75,255.71 L38.86,255.12 L38.97,254.54 L39.08,253.96 L39.20,253.37 L39.31,252.79 L39.42,252.20 L39.54,251.62 L39.65,251.04 L39.77,250.45 L39.89,249.87 L40.01,249.29 L40.12,248.71 L40.24,248.12 L40.36,247.54 L40.49,246.96 L40.61,246.38 L40.73,245.80 L40.85,245.22 L40.98,244.64 L41.11,244.06 L41.24,243.48 L41.37,242.90 L41.51,242.32 L41.65,241.74 L41.79,241.17 L41.93,240.59 L42.08,240.01 L42.22,239.43 L42.37,238.86 L42.51,238.28 L42.65,237.70 L42.80,237.13 L42.94,236.55 L43.08,235.97 L43.22,235.39 L43.36,234.82 L43.49,234.24 L43.63,233.66 L43.77,233.08 L43.91,232.50 L44.04,231.92 L44.18,231.34 L44.32,230.76 L44.45,230.19 L44.59,229.61 L44.73,229.03 L44.87,228.45 L45.01,227.87 L45.15,227.30 L45.30,226.72 L45.44,226.14 L45.59,225.57 L45.74,224.99 L45.89,224.42 L46.04,223.85 L46.20,223.27 L46.35,222.70 L46.51,222.12 L46.67,221.55 L46.83,220.98 L46.99,220.41 L47.15,219.83 L47.31,219.26 L47.48,218.69 L47.65,218.12 L47.81,217.55 L47.98,216.98 L48.16,216.41 L48.33,215.84 L48.50,215.27 L48.68,214.70 L48.85,214.14 L49.03,213.57 L49.21,213.00 L49.39,212.44 L49.58,211.87 L49.76,211.31 L49.95,210.74 L50.14,210.18 L50.33,209.62 L50.52,209.06 L50.72,208.50 L50.92,207.94 L51.12,207.38 L51.32,206.82 L51.53,206.26 L51.73,205.70 L51.94,205.14 L52.15,204.59 L52.36,204.03 L52.57,203.47 L52.78,202.92 L52.99,202.36 L53.21,201.81 L53.43,201.26 L53.65,200.71 L53.88,200.16 L54.11,199.61 L54.34,199.06 L54.57,198.51 L54.80,197.96 L55.03,197.42 L55.26,196.87 L55.48,196.32 L55.70,195.76 L55.92,195.21 L56.13,194.66 L56.33,194.10 L56.53,193.53 L56.73,192.97 L56.93,192.41 L57.13,191.85 L57.34,191.30 L57.56,190.75 L57.79,190.20 L58.03,189.66 L58.26,189.12 L58.51,188.57 L58.75,188.03 L59.00,187.49 L59.26,186.96 L59.52,186.42 L59.78,185.89 L60.04,185.35 L60.31,184.82 L60.58,184.29 L60.85,183.76 L61.13,183.23 L61.40,182.70 L61.68,182.17 L61.96,181.65 L62.24,181.12 L62.52,180.60 L62.80,180.07 L63.08,179.55 L63.37,179.03 L63.65,178.51 L63.94,177.99 L64.22,177.47 L64.51,176.95 L64.80,176.43 L65.09,175.91 L65.39,175.39 L65.68,174.87 L65.98,174.36 L66.29,173.84 L66.59,173.33 L66.90,172.82 L67.21,172.31 L67.52,171.81 L67.83,171.30 L68.15,170.80 L68.47,170.30 L68.80,169.81 L69.12,169.31 L69.45,168.82 L69.79,168.33 L70.12,167.84 L70.46,167.35 L70.81,166.86 L71.15,166.38 L71.50,165.89 L71.85,165.41 L72.20,164.93 L72.56,164.45 L72.92,163.98 L73.29,163.51 L73.65,163.04 L74.02,162.57 L74.39,162.10 L74.77,161.64 L75.15,161.19 L75.53,160.74 L75.91,160.29 L76.30,159.84 L76.69,159.40 L77.09,158.96 L77.49,158.52 L77.90,158.09 L78.31,157.66 L78.73,157.23 L79.15,156.80 L79.57,156.38 L79.99,155.96 L80.42,155.54 L80.85,155.13 L81.28,154.72 L81.71,154.31 L82.15,153.91 L82.58,153.51 L83.02,153.11 L83.46,152.71 L83.91,152.32 L84.36,151.93 L84.81,151.54 L85.26,151.16 L85.72,150.78 L86.18,150.40 L86.64,150.02 L87.10,149.65 L87.56,149.27 L88.03,148.90 L88.49,148.53 L88.96,148.16 L89.43,147.80 L89.90,147.43 L90.37,147.07 L90.84,146.70 L91.31,146.34 L91.79,145.98 L92.27,145.63 L92.75,145.28 L93.23,144.93 L93.71,144.58 L94.18,144.22 L94.64,143.85 L95.10,143.46 L95.55,143.08 L96.00,142.69 L96.46,142.31 L96.93,141.94 L97.40,141.59 L97.89,141.25 L98.37,140.92 L98.87,140.59 L99.36,140.26 L99.86,139.94 L100.37,139.63 L100.87,139.32 L101.38,139.01 L101.89,138.70 L102.41,138.40 L102.92,138.10 L103.43,137.79 L103.95,137.49 L104.46,137.19 L104.98,136.89 L105.49,136.58 L106.00,136.27 L106.50,135.96 L107.01,135.65 L107.51,135.33 L108.01,135.01 L108.51,134.68 L109.01,134.36 L109.51,134.03 L110.01,133.70 L110.50,133.37 L111.00,133.05 L111.50,132.72 L112.00,132.40 L112.50,132.08 L113.01,131.76 L113.51,131.45 L114.02,131.15 L114.53,130.85 L115.05,130.56 L115.57,130.28 L116.09,130.00 L116.62,129.74 L117.15,129.47 L117.69,129.22 L118.23,128.96 L118.77,128.71 L119.31,128.46 L119.85,128.22 L120.39,127.97 L120.93,127.72 L121.47,127.47 L122.01,127.22 L122.55,126.97 L123.09,126.71 L123.62,126.45 L124.15,126.18 L124.68,125.91 L125.21,125.64 L125.74,125.37 L126.28,125.10 L126.81,124.83 L127.34,124.57 L127.87,124.30 L128.40,124.04 L128.93,123.78 L129.47,123.52 L130.01,123.27 L130.55,123.02 L131.09,122.78 L131.63,122.54 L132.18,122.30 L132.72,122.07 L133.27,121.83 L133.82,121.60 L134.37,121.37 L134.92,121.14 L135.47,120.92 L136.03,120.70 L136.58,120.49 L137.14,120.28 L137.70,120.08 L138.25,119.88 L138.82,119.69 L139.38,119.51 L139.95,119.33 L140.51,119.16 L141.09,118.99 L141.66,118.82 L142.23,118.65 L142.80,118.49 L143.37,118.32 L143.94,118.16 L144.51,117.99 L145.08,117.81 L145.65,117.63 L146.21,117.44 L146.77,117.25 L147.33,117.06 L147.89,116.86 L148.45,116.66 L149.01,116.45 L149.57,116.25 L150.13,116.04 L150.69,115.84 L151.24,115.63 L151.80,115.42 L152.36,115.22 L152.92,115.01 L153.48,114.81 L154.04,114.61 L154.59,114.40 L155.15,114.20 L155.71,113.99 L156.27,113.78 L156.83,113.57 L157.38,113.36 L157.94,113.16 L158.50,112.96 L159.06,112.76 L159.62,112.57 L160.19,112.38 L160.75,112.20 L161.32,112.03 L161.89,111.86 L162.46,111.70 L163.03,111.54 L163.61,111.39 L164.18,111.24 L164.76,111.09 L165.33,110.94 L165.91,110.80 L166.49,110.66 L167.07,110.51 L167.64,110.37 L168.22,110.23 L168.80,110.09 L169.38,109.95 L169.96,109.81 L170.53,109.67 L171.11,109.53 L171.69,109.39 L172.27,109.24 L172.84,109.10 L173.42,108.96 L174.00,108.83 L174.58,108.69 L175.15,108.55 L175.73,108.41 L176.31,108.27 L176.89,108.14 L177.47,108.00 L178.05,107.86 L178.63,107.73 L179.21,107.59 L179.78,107.46 L180.36,107.33 L180.94,107.19 L181.52,107.06 L182.10,106.93 L182.68,106.79 L183.26,106.66 L183.84,106.53 L184.42,106.40 L185.00,106.27 L185.58,106.14 L186.16,106.01 L186.74,105.88 L187.32,105.75 L187.90,105.62 L188.48,105.49 L189.06,105.36 L189.64,105.24 L190.22,105.11 L190.80,104.98 L191.38,104.86 L191.97,104.73 L192.55,104.61 L193.13,104.48 L193.71,104.36 L194.29,104.23 L194.87,104.11 L195.45,103.99 L196.03,103.86 L196.62,103.74 L197.20,103.62 L197.78,103.49 L198.36,103.37 L198.94,103.25 L199.52,103.13 L200.11,103.00 L200.69,102.88 L201.27,102.76 L201.85,102.64 L202.43,102.51 L203.01,102.39 L203.60,102.27 L204.18,102.15 L204.76,102.02 L205.34,101.90 L205.92,101.78 L206.51,101.66 L207.09,101.54 L207.67,101.41 L208.25,101.29 L208.83,101.17 L209.42,101.05 L210.00,100.93 L210.58,100.82 L211.16,100.70 L211.75,100.58 L212.33,100.47 L212.91,100.35 L213.50,100.24 L214.08,100.12 L214.66,100.01 L215.25,99.90 L215.83,99.79 L216.42,99.69 L217.00,99.58 L217.59,99.47 L218.17,99.37 L218.76,99.26 L219.34,99.16 L219.93,99.06 L220.51,98.96 L221.10,98.86 L221.68,98.76 L222.27,98.66 L222.86,98.56 L223.44,98.46 L224.03,98.36 L224.61,98.26 L225.20,98.16 L225.79,98.07 L226.37,97.97 L226.96,97.88 L227.55,97.78 L228.13,97.68 L228.72,97.59 L229.31,97.49 L229.90,97.40 L230.48,97.30 L231.07,97.21 L231.66,97.11 L232.24,97.01 L232.83,96.92 L233.42,96.82 L234.00,96.73 L234.59,96.63 L235.18,96.54 L235.76,96.44 L236.35,96.35 L236.94,96.26 L237.52,96.17 L238.11,96.08 L238.70,95.99 L239.29,95.90 L239.88,95.82 L240.46,95.73 L241.05,95.66 L241.64,95.58 L242.23,95.50 L242.82,95.43 L243.41,95.35 L244.00,95.28 L244.59,95.20 L245.18,95.13 L245.77,95.05 L246.36,94.96 L246.95,94.88 L247.54,94.79 L248.12,94.70 L248.71,94.61 L249.30,94.52 L249.89,94.43 L250.47,94.34 L251.06,94.24 L251.65,94.15 L252.23,94.06 L252.82,93.97 L253.41,93.88 L254.00,93.79 L254.59,93.70 L255.17,93.62 L255.76,93.53 L256.35,93.45 L256.94,93.37 L257.53,93.29 L258.12,93.21 L258.71,93.13 L259.29,93.05 L259.88,92.97 L260.47,92.89 L261.06,92.81 L261.65,92.74 L262.24,92.66 L262.83,92.58 L263.42,92.51 L264.01,92.43 L264.60,92.35 L265.19,92.28 L265.78,92.20 L266.37,92.13 L266.96,92.05 L267.55,91.98 L268.14,91.91 L268.73,91.83 L269.32,91.76 L269.91,91.69 L270.50,91.61 L271.09,91.54 L271.68,91.47 L272.27,91.39 L272.86,91.32 L273.45,91.25 L274.04,91.18 L274.63,91.10 L275.22,91.03 L275.81,90.96 L276.40,90.89 L276.99,90.82 L277.58,90.75 L278.17,90.68 L278.76,90.61 L279.35,90.54 L279.94,90.47 L280.53,90.40 L281.12,90.33 L281.71,90.26 L282.30,90.20 L282.89,90.13 L283.48,90.06 L284.07,90.00 L284.67,89.93 L285.26,89.87 L285.85,89.81 L286.44,89.74 L287.03,89.68 L287.62,89.62 L288.21,89.56 L288.80,89.50 L289.39,89.44 L289.99,89.38 L290.58,89.33 L291.17,89.27 L291.76,89.21 L292.35,89.16 L292.94,89.10 L293.54,89.04 L294.13,88.99 L294.72,88.93 L295.31,88.87 L295.90,88.82 L296.50,88.76 L297.09,88.70 L297.68,88.65 L298.27,88.59 L298.86,88.53 L299.45,88.47 L300.04,88.41 L300.64,88.35 L301.23,88.29 L301.82,88.22 L302.41,88.16 L303.00,88.09 L303.59,88.03 L304.18,87.96 L304.77,87.89 L305.36,87.82 L305.95,87.75 L306.54,87.68 L307.13,87.62 L307.72,87.55 L308.32,87.48 L308.91,87.42 L309.50,87.35 L310.09,87.29 L310.68,87.23 L311.27,87.17 L311.86,87.11 L312.45,87.05 L313.04,86.99 L313.64,86.93 L314.23,86.87 L314.82,86.81 L315.41,86.75 L316.00,86.69 L316.59,86.63 L317.18,86.57 L317.78,86.52 L318.37,86.46 L318.96,86.40 L319.55,86.35 L320.14,86.29 L320.74,86.23 L321.33,86.18 L321.92,86.12 L322.51,86.06 L323.10,86.01 L323.69,85.95 L324.29,85.90 L324.88,85.84 L325.47,85.78 L326.06,85.73 L326.65,85.67 L327.24,85.62 L327.84,85.56 L328.43,85.50 L329.02,85.45 L329.61,85.39 L330.20,85.34 L330.80,85.28 L331.39,85.23 L331.98,85.17 L332.57,85.12 L333.16,85.06 L333.76,85.01 L334.35,84.95 L334.94,84.90 L335.53,84.84 L336.12,84.79 L336.72,84.74 L337.31,84.69 L337.90,84.63 L338.49,84.58 L339.08,84.53 L339.68,84.48 L340.27,84.43 L340.86,84.38 L341.45,84.33 L342.05,84.28 L342.64,84.23 L343.23,84.18 L343.82,84.13 L344.42,84.09 L345.01,84.04 L345.60,83.99 L346.19,83.94 L346.79,83.90 L347.38,83.85 L347.97,83.80 L348.56,83.76 L349.16,83.71 L349.75,83.67 L350.34,83.62 L350.93,83.58 L351.53,83.53 L352.12,83.49 L352.71,83.44 L353.30,83.40 L353.90,83.35 L354.49,83.31 L355.08,83.26 L355.68,83.22 L356.27,83.17 L356.86,83.13 L357.45,83.08 L358.05,83.04 L358.64,82.99 L359.23,82.95 L359.82,82.90 L360.42,82.85 L361.01,82.81 L361.60,82.76 L362.20,82.72 L362.79,82.67 L363.38,82.63 L363.97,82.58 L364.57,82.54 L365.16,82.50 L365.75,82.45 L366.35,82.41 L366.94,82.37 L367.53,82.33 L368.12,82.29 L368.72,82.25 L369.31,82.21 L369.90,82.17 L370.50,82.14 L371.09,82.10 L371.68,82.07 L372.28,82.03 L372.87,82.00 L373.46,81.97 L374.06,81.94 L374.65,81.91 L375.25,81.88 L375.84,81.85 L376.43,81.82 L377.03,81.79 L377.62,81.76 L378.21,81.73 L378.81,81.71 L379.40,81.68 L380.00,81.65 L380.59,81.62 L381.18,81.59 L381.78,81.56 L382.37,81.54 L382.96,81.51 L383.56,81.48 L384.15,81.45 L384.75,81.41 L385.34,81.38 L385.93,81.35 L386.53,81.32 L387.12,81.28 L387.71,81.25 L388.31,81.22 L388.90,81.18 L389.49,81.15 L390.09,81.11 L390.68,81.08 L391.27,81.05 L391.87,81.01 L392.46,80.98 L393.05,80.94 L393.65,80.91 L394.24,80.87 L394.83,80.83 L395.43,80.80 L396.02,80.76 L396.61,80.73 L397.21,80.69 L397.80,80.65 L398.39,80.62 L398.99,80.58 L399.58,80.54 L400.17,80.51 L400.77,80.47 L401.36,80.43 L401.95,80.40 L402.55,80.36 L403.14,80.32 L403.73,80.28 L404.33,80.24 L404.92,80.20 L405.51,80.16 L406.11,80.12 L406.70,80.08 L407.29,80.04 L407.89,80.00 L408.48,79.96 L409.07,79.92 L409.66,79.89 L410.26,79.85 L410.85,79.81 L411.44,79.77 L412.04,79.73 L412.63,79.69 L413.22,79.65 L413.82,79.61 L414.41,79.57 L415.00,79.54 L415.60,79.50 L416.19,79.46 L416.78,79.43 L417.38,79.39 L417.97,79.36 L418.56,79.32 L419.16,79.28 L419.75,79.25 L420.34,79.21 L420.94,79.18 L421.53,79.14 L422.12,79.11 L422.72,79.08 L423.31,79.04 L423.90,79.01 L424.50,78.97 L425.09,78.94 L425.68,78.90 L426.28,78.87 L426.87,78.83 L427.46,78.80 L428.06,78.77 L428.65,78.73 L429.24,78.70 L429.84,78.66 L430.43,78.63 L431.02,78.59 L431.62,78.56 L432.21,78.52 L432.80,78.49 L433.40,78.45 L433.99,78.42 L434.59,78.38 L435.18,78.35 L435.77,78.31 L436.37,78.28 L436.96,78.24 L437.55,78.21 L438.15,78.17 L438.74,78.14 L439.33,78.10 L439.93,78.07 L440.52,78.03 L441.11,78.00 L441.71,77.96 L442.30,77.93 L442.89,77.89 L443.49,77.86 L444.08,77.82 L444.67,77.79 L445.27,77.75 L445.86,77.72 L446.45,77.68 L447.05,77.65 L447.64,77.61 L448.23,77.58 L448.83,77.54 L449.42,77.51 L450.01,77.47 L450.61,77.44 L451.20,77.40" stroke="#f00" stroke-width="1.45" stroke-dasharray="6.277 3.766 1.255 3.766 1.255 3.766" stroke-dashoffset="14.2"/>
<path d="M32.90,294.50 L32.95,293.86 L33.01,293.21 L33.06,292.57 L33.12,291.93 L33.17,291.29 L33.22,290.64 L33.28,290.00 L33.33,289.36 L33.39,288.71 L33.44,288.07 L33.50,287.43 L33.55,286.78 L33.61,286.14 L33.66,285.50 L33.71,284.86 L33.77,284.21 L33.82,283.57 L33.88,282.93 L33.93,282.28 L33.99,281.64 L34.04,281.00 L34.10,280.36 L34.15,279.71 L34.21,279.07 L34.26,278.43 L34.32,277.78 L34.37,277.14 L34.43,276.50 L34.48,275.86 L34.54,275.21 L34.60,274.57 L34.65,273.93 L34.71,273.28 L34.76,272.64 L34.82,272.00 L34.87,271.36 L34.93,270.71 L34.99,270.07 L35.04,269.43 L35.10,268.78 L35.15,268.14 L35.21,267.50 L35.26,266.86 L35.31,266.21 L35.37,265.57 L35.42,264.93 L35.48,264.28 L35.53,263.64 L35.58,263.00 L35.64,262.35 L35.69,261.71 L35.74,261.07 L35.80,260.43 L35.85,259.78 L35.91,259.14 L35.96,258.50 L36.01,257.85 L36.07,257.21 L36.12,256.57 L36.18,255.92 L36.23,255.28 L36.29,254.64 L36.35,254.00 L36.40,253.35 L36.46,252.71 L36.52,252.07 L36.58,251.43 L36.64,250.78 L36.70,250.14 L36.76,249.50 L36.82,248.86 L36.88,248.21 L36.94,247.57 L37.00,246.93 L37.07,246.29 L37.13,245.65 L37.20,245.00 L37.27,244.36 L37.33,243.72 L37.40,243.08 L37.47,242.44 L37.54,241.80 L37.62,241.16 L37.69,240.52 L37.76,239.87 L37.84,239.23 L37.91,238.59 L37.99,237.95 L38.06,237.31 L38.14,236.67 L38.22,236.03 L38.30,235.39 L38.38,234.75 L38.46,234.11 L38.55,233.47 L38.63,232.83 L38.71,232.19 L38.80,231.55 L38.88,230.91 L38.97,230.27 L39.06,229.63 L39.15,228.99 L39.23,228.35 L39.32,227.71 L39.42,227.08 L39.51,226.44 L39.60,225.80 L39.70,225.16 L39.79,224.52 L39.89,223.88 L39.99,223.25 L40.09,222.61 L40.19,221.97 L40.29,221.33 L40.39,220.70 L40.49,220.06 L40.60,219.42 L40.70,218.79 L40.81,218.15 L40.91,217.51 L41.02,216.88 L41.13,216.24 L41.24,215.60 L41.35,214.97 L41.47,214.33 L41.58,213.70 L41.69,213.06 L41.81,212.43 L41.92,211.79 L42.04,211.16 L42.16,210.52 L42.28,209.89 L42.40,209.26 L42.52,208.62 L42.64,207.99 L42.77,207.36 L42.89,206.72 L43.02,206.09 L43.15,205.46 L43.28,204.83 L43.41,204.19 L43.54,203.56 L43.68,202.93 L43.81,202.30 L43.95,201.67 L44.09,201.04 L44.23,200.41 L44.37,199.78 L44.51,199.15 L44.66,198.52 L44.80,197.89 L44.95,197.26 L45.10,196.64 L45.25,196.01 L45.41,195.38 L45.56,194.76 L45.72,194.13 L45.88,193.51 L46.05,192.89 L46.21,192.26 L46.39,191.64 L46.56,191.02 L46.74,190.40 L46.92,189.78 L47.10,189.16 L47.28,188.54 L47.46,187.92 L47.65,187.30 L47.83,186.69 L48.01,186.07 L48.20,185.45 L48.38,184.83 L48.57,184.21 L48.75,183.59 L48.93,182.97 L49.11,182.35 L49.29,181.73 L49.47,181.11 L49.65,180.49 L49.82,179.87 L50.00,179.25 L50.18,178.63 L50.35,178.01 L50.53,177.38 L50.70,176.76 L50.88,176.14 L51.06,175.52 L51.24,174.90 L51.42,174.28 L51.60,173.66 L51.79,173.05 L51.97,172.43 L52.16,171.81 L52.35,171.20 L52.55,170.58 L52.75,169.97 L52.95,169.36 L53.15,168.75 L53.36,168.14 L53.57,167.53 L53.79,166.92 L54.01,166.31 L54.23,165.71 L54.46,165.10 L54.68,164.50 L54.91,163.90 L55.14,163.29 L55.38,162.69 L55.61,162.09 L55.84,161.49 L56.08,160.89 L56.31,160.28 L56.55,159.68 L56.78,159.08 L57.01,158.48 L57.24,157.87 L57.47,157.27 L57.70,156.67 L57.93,156.06 L58.16,155.46 L58.39,154.86 L58.61,154.25 L58.84,153.65 L59.07,153.04 L59.30,152.44 L59.52,151.84 L59.75,151.23 L59.98,150.63 L60.21,150.03 L60.44,149.42 L60.68,148.82 L60.91,148.22 L61.14,147.62 L61.38,147.02 L61.62,146.42 L61.86,145.82 L62.10,145.23 L62.35,144.63 L62.59,144.03 L62.84,143.44 L63.09,142.84 L63.34,142.25 L63.59,141.65 L63.84,141.06 L64.10,140.46 L64.35,139.87 L64.61,139.28 L64.87,138.69 L65.13,138.10 L65.39,137.51 L65.66,136.92 L65.93,136.33 L66.19,135.74 L66.47,135.16 L66.74,134.58 L67.02,133.99 L67.30,133.41 L67.58,132.83 L67.86,132.26 L68.15,131.68 L68.44,131.10 L68.73,130.52 L69.02,129.95 L69.32,129.37 L69.62,128.80 L69.92,128.23 L70.22,127.66 L70.52,127.09 L70.83,126.52 L71.14,125.95 L71.46,125.39 L71.77,124.82 L72.09,124.26 L72.41,123.70 L72.74,123.15 L73.06,122.59 L73.39,122.04 L73.73,121.49 L74.07,120.94 L74.41,120.40 L74.75,119.85 L75.10,119.31 L75.45,118.77 L75.81,118.23 L76.17,117.69 L76.53,117.16 L76.90,116.62 L77.27,116.09 L77.64,115.56 L78.02,115.04 L78.39,114.51 L78.77,113.99 L79.15,113.47 L79.54,112.95 L79.92,112.43 L80.31,111.92 L80.70,111.41 L81.09,110.90 L81.49,110.39 L81.89,109.89 L82.30,109.39 L82.71,108.89 L83.12,108.39 L83.53,107.89 L83.95,107.40 L84.37,106.91 L84.79,106.42 L85.21,105.93 L85.63,105.44 L86.06,104.95 L86.48,104.46 L86.90,103.98 L87.33,103.49 L87.75,103.00 L88.17,102.51 L88.60,102.03 L89.02,101.54 L89.45,101.06 L89.87,100.57 L90.30,100.09 L90.73,99.61 L91.16,99.13 L91.59,98.65 L92.03,98.17 L92.46,97.69 L92.90,97.22 L93.33,96.74 L93.77,96.27 L94.21,95.79 L94.65,95.32 L95.09,94.85 L95.54,94.39 L95.99,93.92 L96.44,93.46 L96.88,92.99 L97.33,92.53 L97.76,92.05 L98.19,91.57 L98.63,91.09 L99.06,90.61 L99.50,90.14 L99.95,89.68 L100.42,89.24 L100.88,88.80 L101.36,88.36 L101.84,87.93 L102.33,87.50 L102.82,87.08 L103.31,86.66 L103.81,86.25 L104.31,85.84 L104.82,85.44 L105.32,85.03 L105.83,84.64 L106.35,84.24 L106.86,83.85 L107.37,83.47 L107.89,83.09 L108.41,82.71 L108.94,82.34 L109.47,81.97 L110.00,81.61 L110.54,81.25 L111.08,80.89 L111.62,80.54 L112.16,80.19 L112.71,79.84 L113.25,79.49 L113.80,79.15 L114.34,78.80 L114.89,78.46 L115.44,78.11 L115.98,77.77 L116.53,77.42 L117.07,77.08 L117.62,76.74 L118.17,76.39 L118.72,76.05 L119.27,75.71 L119.82,75.38 L120.37,75.05 L120.93,74.72 L121.48,74.39 L122.04,74.07 L122.61,73.76 L123.17,73.45 L123.74,73.15 L124.31,72.84 L124.88,72.54 L125.45,72.24 L126.03,71.95 L126.60,71.65 L127.18,71.37 L127.77,71.08 L128.35,70.81 L128.93,70.54 L129.52,70.27 L130.11,70.01 L130.70,69.76 L131.30,69.51 L131.89,69.27 L132.49,69.04 L133.10,68.81 L133.70,68.58 L134.31,68.36 L134.92,68.15 L135.53,67.93 L136.14,67.72 L136.75,67.50 L137.36,67.29 L137.97,67.08 L138.58,66.87 L139.19,66.66 L139.80,66.45 L140.41,66.24 L141.02,66.03 L141.63,65.83 L142.24,65.62 L142.86,65.42 L143.47,65.22 L144.08,65.03 L144.70,64.83 L145.32,64.64 L145.93,64.45 L146.55,64.27 L147.17,64.09 L147.79,63.91 L148.41,63.73 L149.03,63.55 L149.65,63.38 L150.28,63.21 L150.90,63.04 L151.52,62.87 L152.15,62.71 L152.77,62.55 L153.39,62.39 L154.02,62.23 L154.65,62.07 L155.27,61.92 L155.90,61.77 L156.53,61.63 L157.16,61.48 L157.79,61.34 L158.42,61.19 L159.05,61.05 L159.67,60.90 L160.30,60.76 L160.93,60.61 L161.56,60.46 L162.19,60.31 L162.81,60.16 L163.44,60.01 L164.07,59.87 L164.70,59.72 L165.33,59.57 L165.95,59.42 L166.58,59.27 L167.21,59.11 L167.84,58.96 L168.46,58.80 L169.09,58.64 L169.71,58.48 L170.33,58.31 L170.95,58.12 L171.57,57.92 L172.18,57.73 L172.81,57.57 L173.43,57.43 L174.06,57.31 L174.69,57.19 L175.33,57.08 L175.96,56.97 L176.60,56.87 L177.23,56.77 L177.87,56.68 L178.51,56.59 L179.15,56.50 L179.80,56.41 L180.44,56.33 L181.08,56.25 L181.72,56.17 L182.36,56.09 L183.00,56.00 L183.65,55.92 L184.29,55.84 L184.93,55.75 L185.57,55.66 L186.21,55.57 L186.84,55.48 L187.48,55.39 L188.12,55.30 L188.76,55.21 L189.40,55.12 L190.04,55.02 L190.68,54.93 L191.32,54.84 L191.96,54.75 L192.60,54.66 L193.24,54.57 L193.88,54.49 L194.52,54.40 L195.16,54.32 L195.80,54.23 L196.44,54.15 L197.08,54.08 L197.72,54.00 L198.36,53.93 L199.00,53.86 L199.64,53.79 L200.28,53.73 L200.92,53.67 L201.56,53.61 L202.21,53.55 L202.85,53.50 L203.49,53.44 L204.13,53.39 L204.78,53.34 L205.42,53.29 L206.06,53.24 L206.71,53.19 L207.35,53.14 L207.99,53.09 L208.64,53.05 L209.28,53.00 L209.93,52.96 L210.57,52.92 L211.21,52.88 L211.86,52.83 L212.50,52.79 L213.15,52.75 L213.79,52.72 L214.44,52.68 L215.08,52.64 L215.72,52.60 L216.37,52.57 L217.01,52.53 L217.66,52.50 L218.30,52.46 L218.95,52.43 L219.59,52.39 L220.23,52.36 L220.88,52.33 L221.52,52.29 L222.17,52.26 L222.81,52.23 L223.46,52.20 L224.10,52.17 L224.75,52.14 L225.39,52.11 L226.03,52.08 L226.68,52.06 L227.32,52.03 L227.97,52.01 L228.61,51.98 L229.26,51.96 L229.90,51.94 L230.55,51.92 L231.19,51.90 L231.84,51.88 L232.48,51.86 L233.13,51.85 L233.77,51.83 L234.42,51.82 L235.06,51.80 L235.71,51.79 L236.35,51.77 L237.00,51.76 L237.64,51.75 L238.29,51.74 L238.93,51.72 L239.58,51.71 L240.22,51.70 L240.87,51.68 L241.51,51.67 L242.16,51.65 L242.80,51.64 L243.45,51.63 L244.09,51.61 L244.74,51.60 L245.38,51.58 L246.03,51.57 L246.67,51.56 L247.32,51.54 L247.96,51.53 L248.61,51.52 L249.25,51.50 L249.90,51.49 L250.55,51.47 L251.19,51.46 L251.84,51.45 L252.48,51.43 L253.13,51.42 L253.77,51.41 L254.42,51.39 L255.06,51.38 L255.71,51.37 L256.35,51.35 L257.00,51.34 L257.64,51.33 L258.29,51.31 L258.93,51.30 L259.58,51.29 L260.22,51.28 L260.87,51.26 L261.51,51.25 L262.16,51.24 L262.80,51.23 L263.45,51.22 L264.09,51.21 L264.74,51.19 L265.38,51.18 L266.03,51.17 L266.67,51.16 L267.32,51.15 L267.96,51.14 L268.61,51.13 L269.25,51.12 L269.90,51.11 L270.54,51.10 L271.19,51.09 L271.83,51.08 L272.48,51.07 L273.12,51.06 L273.77,51.05 L274.41,51.04 L275.06,51.04 L275.70,51.03 L276.35,51.02 L276.99,51.01 L277.64,51.00 L278.28,50.99 L278.93,50.98 L279.58,50.97 L280.22,50.96 L280.87,50.96 L281.51,50.95 L282.16,50.94 L282.80,50.93 L283.45,50.92 L284.09,50.91 L284.74,50.90 L285.38,50.90 L286.03,50.89 L286.67,50.88 L287.32,50.87 L287.96,50.86 L288.61,50.86 L289.25,50.85 L289.90,50.84 L290.54,50.83 L291.19,50.82 L291.83,50.82 L292.48,50.81 L293.12,50.80 L293.77,50.80 L294.41,50.79 L295.06,50.78 L295.70,50.77 L296.35,50.77 L296.99,50.76 L297.64,50.75 L298.29,50.75 L298.93,50.74 L299.58,50.73 L300.22,50.73 L300.87,50.72 L301.51,50.72 L302.16,50.71 L302.80,50.71 L303.45,50.70 L304.09,50.69 L304.74,50.69 L305.38,50.68 L306.03,50.68 L306.67,50.67 L307.32,50.67 L307.96,50.66 L308.61,50.66 L309.25,50.65 L309.90,50.65 L310.54,50.65 L311.19,50.64 L311.83,50.64 L312.48,50.63 L313.12,50.63 L313.77,50.63 L314.42,50.62 L315.06,50.62 L315.71,50.61 L316.35,50.61 L317.00,50.61 L317.64,50.60 L318.29,50.60 L318.93,50.60 L319.58,50.59 L320.22,50.59 L320.87,50.58 L321.51,50.58 L322.16,50.58 L322.80,50.57 L323.45,50.57 L324.09,50.57 L324.74,50.56 L325.38,50.56 L326.03,50.56 L326.67,50.55 L327.32,50.55 L327.96,50.55 L328.61,50.54 L329.25,50.54 L329.90,50.54 L330.55,50.53 L331.19,50.53 L331.84,50.53 L332.48,50.52 L333.13,50.52 L333.77,50.52 L334.42,50.51 L335.06,50.51 L335.71,50.51 L336.35,50.51 L337.00,50.50 L337.64,50.50 L338.29,50.50 L338.93,50.49 L339.58,50.49 L340.22,50.49 L340.87,50.49 L341.51,50.48 L342.16,50.48 L342.80,50.48 L343.45,50.47 L344.09,50.47 L344.74,50.47 L345.38,50.47 L346.03,50.46 L346.68,50.46 L347.32,50.46 L347.97,50.46 L348.61,50.45 L349.26,50.45 L349.90,50.45 L350.55,50.45 L351.19,50.44 L351.84,50.44 L352.48,50.44 L353.13,50.44 L353.77,50.43 L354.42,50.43 L355.06,50.43 L355.71,50.43 L356.35,50.42 L357.00,50.42 L357.64,50.42 L358.29,50.42 L358.93,50.42 L359.58,50.41 L360.22,50.41 L360.87,50.41 L361.52,50.41 L362.16,50.40 L362.81,50.40 L363.45,50.40 L364.10,50.40 L364.74,50.40 L365.39,50.39 L366.03,50.39 L366.68,50.39 L367.32,50.39 L367.97,50.39 L368.61,50.38 L369.26,50.38 L369.90,50.38 L370.55,50.38 L371.19,50.38 L371.84,50.37 L372.48,50.37 L373.13,50.37 L373.77,50.37 L374.42,50.37 L375.06,50.36 L375.71,50.36 L376.36,50.36 L377.00,50.36 L377.65,50.36 L378.29,50.35 L378.94,50.35 L379.58,50.35 L380.23,50.35 L380.87,50.35 L381.52,50.35 L382.16,50.34 L382.81,50.34 L383.45,50.34 L384.10,50.34 L384.74,50.34 L385.39,50.33 L386.03,50.33 L386.68,50.33 L387.32,50.33 L387.97,50.33 L388.61,50.33 L389.26,50.32 L389.90,50.32 L390.55,50.32 L391.20,50.32 L391.84,50.32 L392.49,50.32 L393.13,50.31 L393.78,50.31 L394.42,50.31 L395.07,50.31 L395.71,50.31 L396.36,50.31 L397.00,50.30 L397.65,50.30 L398.29,50.30 L398.94,50.30 L399.58,50.30 L400.23,50.30 L400.87,50.29 L401.52,50.29 L402.16,50.29 L402.81,50.29 L403.45,50.29 L404.10,50.29 L404.74,50.28 L405.39,50.28 L406.03,50.28 L406.68,50.28 L407.33,50.28 L407.97,50.28 L408.62,50.27 L409.26,50.27 L409.91,50.27 L410.55,50.27 L411.20,50.27 L411.84,50.27 L412.49,50.27 L413.13,50.26 L413.78,50.26 L414.42,50.26 L415.07,50.26 L415.71,50.26 L416.36,50.26 L417.00,50.26 L417.65,50.25 L418.29,50.25 L418.94,50.25 L419.58,50.25 L420.23,50.25 L420.87,50.25 L421.52,50.25 L422.17,50.24 L422.81,50.24 L423.46,50.24 L424.10,50.24 L424.75,50.24 L425.39,50.24 L426.04,50.24 L426.68,50.24 L427.33,50.23 L427.97,50.23 L428.62,50.23 L429.26,50.23 L429.91,50.23 L430.55,50.23 L431.20,50.23 L431.84,50.23 L432.49,50.23 L433.13,50.22 L433.78,50.22 L434.42,50.22 L435.07,50.22 L435.71,50.22 L436.36,50.22 L437.01,50.22 L437.65,50.22 L438.30,50.22 L438.94,50.22 L439.59,50.21 L440.23,50.21 L440.88,50.21 L441.52,50.21 L442.17,50.21 L442.81,50.21 L443.46,50.21 L444.10,50.21 L444.75,50.21 L445.39,50.21 L446.04,50.21 L446.68,50.20 L447.33,50.20 L447.97,50.20 L448.62,50.20 L449.26,50.20 L449.91,50.20 L450.55,50.20 L451.20,50.20" stroke="#00f" stroke-width="1.5" stroke-dasharray="6.260 3.756 6.260 3.756 1.252 3.756" stroke-dashoffset="8.65"/>
<path d="M32.90,294.50 L32.99,293.89 L33.08,293.29 L33.17,292.68 L33.27,292.08 L33.36,291.47 L33.45,290.87 L33.54,290.26 L33.64,289.65 L33.73,289.05 L33.82,288.44 L33.92,287.84 L34.01,287.23 L34.11,286.63 L34.20,286.02 L34.29,285.42 L34.39,284.81 L34.48,284.21 L34.58,283.60 L34.68,283.00 L34.77,282.39 L34.87,281.79 L34.96,281.18 L35.06,280.58 L35.16,279.97 L35.25,279.37 L35.35,278.76 L35.45,278.16 L35.54,277.55 L35.64,276.95 L35.74,276.34 L35.84,275.74 L35.94,275.13 L36.04,274.53 L36.14,273.92 L36.23,273.32 L36.33,272.72 L36.43,272.11 L36.53,271.51 L36.63,270.90 L36.73,270.30 L36.83,269.69 L36.93,269.09 L37.03,268.49 L37.13,267.88 L37.23,267.28 L37.33,266.67 L37.43,266.07 L37.52,265.46 L37.62,264.85 L37.72,264.25 L37.81,263.64 L37.91,263.04 L38.01,262.43 L38.10,261.82 L38.20,261.22 L38.30,260.61 L38.39,260.01 L38.49,259.40 L38.59,258.80 L38.68,258.19 L38.78,257.58 L38.88,256.98 L38.98,256.37 L39.08,255.77 L39.18,255.16 L39.28,254.56 L39.38,253.95 L39.48,253.35 L39.59,252.74 L39.69,252.14 L39.80,251.54 L39.90,250.93 L40.01,250.33 L40.12,249.73 L40.23,249.13 L40.34,248.52 L40.46,247.92 L40.57,247.32 L40.69,246.72 L40.80,246.12 L40.92,245.52 L41.04,244.92 L41.16,244.32 L41.29,243.72 L41.41,243.12 L41.54,242.53 L41.67,241.93 L41.80,241.33 L41.94,240.74 L42.08,240.14 L42.22,239.55 L42.38,238.96 L42.54,238.36 L42.70,237.77 L42.86,237.18 L43.03,236.59 L43.21,236.00 L43.38,235.42 L43.55,234.83 L43.73,234.24 L43.90,233.65 L44.08,233.07 L44.26,232.48 L44.44,231.90 L44.62,231.31 L44.81,230.73 L45.00,230.14 L45.18,229.56 L45.37,228.98 L45.57,228.40 L45.76,227.82 L45.95,227.24 L46.15,226.66 L46.35,226.08 L46.55,225.50 L46.75,224.92 L46.95,224.34 L47.15,223.76 L47.36,223.18 L47.56,222.61 L47.77,222.03 L47.98,221.45 L48.19,220.88 L48.41,220.31 L48.63,219.73 L48.84,219.16 L49.07,218.59 L49.29,218.02 L49.52,217.45 L49.75,216.88 L49.98,216.32 L50.21,215.75 L50.45,215.18 L50.68,214.62 L50.92,214.05 L51.15,213.49 L51.39,212.92 L51.63,212.36 L51.87,211.79 L52.11,211.23 L52.35,210.67 L52.59,210.10 L52.83,209.54 L53.08,208.98 L53.32,208.42 L53.56,207.86 L53.81,207.29 L54.05,206.73 L54.30,206.17 L54.54,205.61 L54.78,205.05 L55.03,204.48 L55.27,203.92 L55.52,203.36 L55.76,202.80 L56.01,202.24 L56.26,201.68 L56.50,201.12 L56.74,200.55 L56.99,199.99 L57.23,199.43 L57.47,198.87 L57.71,198.30 L57.95,197.74 L58.18,197.17 L58.41,196.60 L58.64,196.03 L58.87,195.47 L59.10,194.90 L59.33,194.33 L59.57,193.77 L59.81,193.20 L60.06,192.64 L60.31,192.08 L60.56,191.53 L60.83,190.98 L61.09,190.43 L61.37,189.88 L61.64,189.33 L61.92,188.78 L62.20,188.24 L62.48,187.69 L62.76,187.15 L63.04,186.60 L63.32,186.06 L63.59,185.51 L63.87,184.96 L64.14,184.41 L64.42,183.87 L64.69,183.32 L64.96,182.77 L65.23,182.22 L65.51,181.67 L65.78,181.12 L66.06,180.58 L66.34,180.03 L66.63,179.49 L66.91,178.95 L67.20,178.41 L67.50,177.87 L67.80,177.34 L68.10,176.81 L68.40,176.28 L68.71,175.74 L69.02,175.22 L69.33,174.69 L69.64,174.16 L69.95,173.63 L70.26,173.10 L70.58,172.58 L70.89,172.05 L71.20,171.52 L71.51,171.00 L71.82,170.47 L72.14,169.94 L72.45,169.42 L72.77,168.89 L73.08,168.37 L73.40,167.84 L73.72,167.32 L74.04,166.80 L74.37,166.28 L74.70,165.76 L75.03,165.25 L75.36,164.74 L75.70,164.23 L76.04,163.72 L76.39,163.21 L76.74,162.71 L77.08,162.20 L77.43,161.70 L77.78,161.19 L78.12,160.68 L78.46,160.17 L78.80,159.66 L79.13,159.15 L79.45,158.63 L79.77,158.11 L80.09,157.58 L80.41,157.06 L80.73,156.53 L81.04,156.01 L81.36,155.48 L81.68,154.96 L82.00,154.44 L82.33,153.92 L82.66,153.41 L83.00,152.90 L83.35,152.40 L83.70,151.90 L84.06,151.40 L84.42,150.91 L84.79,150.42 L85.16,149.93 L85.53,149.44 L85.90,148.95 L86.28,148.47 L86.65,147.98 L87.01,147.49 L87.38,146.99 L87.74,146.50 L88.10,146.00 L88.45,145.50 L88.81,145.00 L89.16,144.50 L89.52,144.00 L89.87,143.50 L90.23,143.00 L90.59,142.51 L90.96,142.02 L91.33,141.53 L91.70,141.05 L92.08,140.57 L92.47,140.10 L92.87,139.63 L93.26,139.17 L93.67,138.70 L94.07,138.24 L94.48,137.79 L94.89,137.33 L95.30,136.87 L95.71,136.41 L96.11,135.95 L96.51,135.49 L96.91,135.02 L97.30,134.55 L97.70,134.08 L98.09,133.61 L98.48,133.14 L98.87,132.67 L99.26,132.20 L99.66,131.73 L100.05,131.26 L100.45,130.79 L100.85,130.33 L101.26,129.87 L101.66,129.42 L102.08,128.97 L102.50,128.52 L102.92,128.08 L103.34,127.63 L103.77,127.19 L104.19,126.75 L104.62,126.32 L105.05,125.88 L105.48,125.44 L105.91,125.01 L106.34,124.57 L106.77,124.13 L107.20,123.69 L107.62,123.25 L108.05,122.81 L108.47,122.37 L108.90,121.92 L109.32,121.48 L109.75,121.04 L110.17,120.60 L110.60,120.16 L111.04,119.73 L111.47,119.30 L111.91,118.87 L112.36,118.45 L112.80,118.04 L113.26,117.63 L113.71,117.22 L114.17,116.81 L114.63,116.41 L115.10,116.01 L115.56,115.61 L116.03,115.21 L116.50,114.81 L116.96,114.41 L117.42,114.01 L117.89,113.61 L118.35,113.21 L118.80,112.80 L119.26,112.39 L119.72,111.98 L120.17,111.57 L120.63,111.16 L121.09,110.75 L121.55,110.35 L122.01,109.95 L122.48,109.55 L122.95,109.16 L123.43,108.78 L123.91,108.40 L124.39,108.03 L124.89,107.67 L125.38,107.31 L125.88,106.95 L126.38,106.60 L126.88,106.24 L127.38,105.89 L127.89,105.54 L128.39,105.19 L128.89,104.84 L129.39,104.48 L129.89,104.12 L130.38,103.76 L130.88,103.40 L131.37,103.04 L131.87,102.68 L132.36,102.32 L132.86,101.96 L133.35,101.60 L133.85,101.24 L134.35,100.88 L134.85,100.53 L135.35,100.18 L135.85,99.83 L136.35,99.48 L136.86,99.13 L137.36,98.78 L137.87,98.43 L138.37,98.08 L138.88,97.74 L139.39,97.39 L139.90,97.05 L140.41,96.72 L140.92,96.38 L141.44,96.05 L141.95,95.73 L142.48,95.41 L143.00,95.09 L143.53,94.78 L144.06,94.48 L144.59,94.17 L145.12,93.87 L145.66,93.57 L146.19,93.27 L146.73,92.97 L147.26,92.67 L147.79,92.37 L148.32,92.06 L148.85,91.75 L149.38,91.44 L149.90,91.12 L150.43,90.79 L150.95,90.47 L151.47,90.15 L151.99,89.82 L152.51,89.50 L153.04,89.19 L153.57,88.88 L154.10,88.58 L154.64,88.29 L155.18,88.01 L155.73,87.74 L156.28,87.47 L156.83,87.22 L157.39,86.96 L157.95,86.72 L158.51,86.47 L159.08,86.23 L159.64,85.99 L160.21,85.75 L160.77,85.50 L161.33,85.26 L161.89,85.00 L162.45,84.75 L163.00,84.50 L163.56,84.24 L164.12,83.98 L164.67,83.72 L165.23,83.46 L165.78,83.21 L166.34,82.95 L166.89,82.69 L167.45,82.44 L168.01,82.19 L168.57,81.94 L169.13,81.69 L169.69,81.44 L170.25,81.20 L170.81,80.95 L171.37,80.71 L171.94,80.47 L172.50,80.23 L173.07,79.99 L173.63,79.75 L174.20,79.51 L174.76,79.28 L175.33,79.05 L175.90,78.82 L176.47,78.59 L177.04,78.37 L177.61,78.15 L178.18,77.92 L178.75,77.70 L179.32,77.49 L179.89,77.27 L180.47,77.05 L181.04,76.84 L181.62,76.63 L182.19,76.41 L182.77,76.20 L183.34,75.99 L183.92,75.78 L184.49,75.58 L185.07,75.37 L185.65,75.17 L186.23,74.96 L186.80,74.76 L187.38,74.56 L187.96,74.36 L188.54,74.16 L189.12,73.96 L189.70,73.77 L190.28,73.57 L190.86,73.38 L191.45,73.19 L192.03,72.99 L192.61,72.80 L193.19,72.61 L193.78,72.42 L194.36,72.24 L194.94,72.05 L195.53,71.87 L196.11,71.69 L196.70,71.52 L197.29,71.34 L197.88,71.18 L198.47,71.01 L199.06,70.84 L199.65,70.68 L200.24,70.52 L200.83,70.36 L201.42,70.20 L202.01,70.05 L202.61,69.89 L203.20,69.74 L203.79,69.58 L204.38,69.43 L204.98,69.27 L205.57,69.12 L206.16,68.96 L206.76,68.81 L207.35,68.66 L207.94,68.51 L208.54,68.36 L209.13,68.21 L209.73,68.06 L210.32,67.91 L210.92,67.77 L211.51,67.62 L212.11,67.48 L212.70,67.33 L213.30,67.19 L213.89,67.05 L214.49,66.90 L215.08,66.76 L215.68,66.62 L216.28,66.48 L216.87,66.35 L217.47,66.21 L218.07,66.08 L218.67,65.95 L219.27,65.82 L219.87,65.70 L220.47,65.57 L221.07,65.45 L221.67,65.33 L222.27,65.21 L222.87,65.10 L223.47,64.98 L224.07,64.87 L224.68,64.75 L225.28,64.64 L225.88,64.52 L226.48,64.40 L227.08,64.29 L227.68,64.17 L228.28,64.05 L228.89,63.94 L229.49,63.82 L230.09,63.71 L230.69,63.59 L231.29,63.48 L231.89,63.36 L232.50,63.25 L233.10,63.14 L233.70,63.03 L234.31,62.93 L234.91,62.83 L235.51,62.72 L236.12,62.62 L236.72,62.52 L237.33,62.42 L237.93,62.33 L238.54,62.23 L239.14,62.13 L239.75,62.03 L240.35,61.94 L240.96,61.84 L241.56,61.74 L242.17,61.64 L242.77,61.55 L243.37,61.45 L243.98,61.35 L244.58,61.25 L245.19,61.16 L245.79,61.06 L246.40,60.96 L247.00,60.87 L247.61,60.77 L248.21,60.68 L248.82,60.58 L249.42,60.49 L250.03,60.39 L250.64,60.30 L251.24,60.20 L251.85,60.11 L252.45,60.01 L253.06,59.92 L253.66,59.83 L254.27,59.74 L254.87,59.65 L255.48,59.57 L256.09,59.49 L256.70,59.41 L257.30,59.33 L257.91,59.26 L258.52,59.19 L259.13,59.12 L259.74,59.04 L260.35,58.98 L260.95,58.91 L261.56,58.84 L262.17,58.77 L262.78,58.70 L263.39,58.64 L264.00,58.57 L264.61,58.50 L265.22,58.43 L265.82,58.36 L266.43,58.29 L267.04,58.22 L267.65,58.16 L268.26,58.09 L268.87,58.02 L269.48,57.96 L270.09,57.89 L270.70,57.83 L271.31,57.77 L271.92,57.71 L272.53,57.65 L273.13,57.59 L273.74,57.53 L274.35,57.47 L274.96,57.42 L275.57,57.36 L276.18,57.31 L276.79,57.25 L277.40,57.20 L278.02,57.14 L278.63,57.09 L279.24,57.04 L279.85,56.99 L280.46,56.93 L281.07,56.89 L281.68,56.84 L282.29,56.79 L282.90,56.74 L283.51,56.69 L284.12,56.64 L284.73,56.59 L285.34,56.54 L285.95,56.50 L286.56,56.45 L287.17,56.40 L287.78,56.35 L288.39,56.30 L289.01,56.25 L289.62,56.20 L290.23,56.15 L290.84,56.10 L291.45,56.05 L292.06,56.01 L292.67,55.96 L293.28,55.92 L293.89,55.87 L294.50,55.83 L295.11,55.79 L295.72,55.75 L296.34,55.71 L296.95,55.67 L297.56,55.63 L298.17,55.59 L298.78,55.55 L299.39,55.51 L300.00,55.47 L300.62,55.43 L301.23,55.39 L301.84,55.35 L302.45,55.31 L303.06,55.27 L303.67,55.22 L304.28,55.18 L304.89,55.14 L305.50,55.09 L306.12,55.05 L306.73,55.01 L307.34,54.97 L307.95,54.93 L308.56,54.90 L309.17,54.86 L309.78,54.83 L310.40,54.80 L311.01,54.77 L311.62,54.74 L312.23,54.71 L312.84,54.68 L313.46,54.65 L314.07,54.62 L314.68,54.58 L315.29,54.55 L315.90,54.51 L316.51,54.47 L317.12,54.43 L317.73,54.38 L318.35,54.33 L318.96,54.28 L319.57,54.22 L320.18,54.17 L320.79,54.12 L321.40,54.07 L322.01,54.02 L322.62,53.97 L323.23,53.93 L323.84,53.90 L324.45,53.87 L325.06,53.84 L325.68,53.81 L326.29,53.79 L326.90,53.77 L327.51,53.75 L328.13,53.72 L328.74,53.70 L329.35,53.68 L329.96,53.65 L330.57,53.63 L331.19,53.60 L331.80,53.56 L332.41,53.52 L333.02,53.48 L333.63,53.44 L334.24,53.39 L334.85,53.35 L335.46,53.30 L336.08,53.26 L336.69,53.22 L337.30,53.17 L337.91,53.14 L338.52,53.10 L339.13,53.07 L339.74,53.05 L340.36,53.02 L340.97,53.00 L341.58,52.97 L342.19,52.95 L342.80,52.93 L343.42,52.90 L344.03,52.88 L344.64,52.86 L345.25,52.84 L345.87,52.81 L346.48,52.79 L347.09,52.77 L347.70,52.74 L348.31,52.72 L348.93,52.69 L349.54,52.67 L350.15,52.65 L350.76,52.62 L351.37,52.60 L351.99,52.58 L352.60,52.55 L353.21,52.53 L353.82,52.50 L354.44,52.48 L355.05,52.45 L355.66,52.43 L356.27,52.40 L356.88,52.37 L357.50,52.35 L358.11,52.32 L358.72,52.29 L359.33,52.27 L359.94,52.24 L360.56,52.22 L361.17,52.20 L361.78,52.18 L362.39,52.16 L363.00,52.15 L363.62,52.13 L364.23,52.12 L364.84,52.10 L365.45,52.09 L366.07,52.07 L366.68,52.06 L367.29,52.04 L367.90,52.03 L368.52,52.01 L369.13,51.99 L369.74,51.97 L370.35,51.94 L370.96,51.91 L371.58,51.88 L372.19,51.85 L372.80,51.82 L373.41,51.79 L374.02,51.76 L374.64,51.74 L375.25,51.72 L375.86,51.71 L376.47,51.70 L377.09,51.69 L377.70,51.68 L378.31,51.68 L378.92,51.67 L379.54,51.67 L380.15,51.66 L380.76,51.66 L381.37,51.66 L381.99,51.66 L382.60,51.65 L383.21,51.65 L383.82,51.65 L384.44,51.64 L385.05,51.64 L385.66,51.64 L386.27,51.64 L386.89,51.63 L387.50,51.63 L388.11,51.63 L388.72,51.62 L389.34,51.62 L389.95,51.61 L390.56,51.61 L391.17,51.60 L391.79,51.59 L392.40,51.58 L393.01,51.56 L393.62,51.55 L394.24,51.53 L394.85,51.51 L395.46,51.49 L396.07,51.47 L396.69,51.45 L397.30,51.43 L397.91,51.42 L398.52,51.41 L399.14,51.39 L399.75,51.38 L400.36,51.37 L400.97,51.37 L401.59,51.36 L402.20,51.35 L402.81,51.34 L403.42,51.33 L404.04,51.33 L404.65,51.32 L405.26,51.31 L405.87,51.30 L406.49,51.29 L407.10,51.29 L407.71,51.28 L408.32,51.27 L408.94,51.26 L409.55,51.25 L410.16,51.25 L410.77,51.24 L411.39,51.23 L412.00,51.22 L412.61,51.21 L413.22,51.21 L413.84,51.20 L414.45,51.19 L415.06,51.18 L415.67,51.17 L416.29,51.17 L416.90,51.16 L417.51,51.15 L418.12,51.14 L418.74,51.13 L419.35,51.13 L419.96,51.12 L420.57,51.11 L421.19,51.10 L421.80,51.09 L422.41,51.09 L423.02,51.08 L423.64,51.07 L424.25,51.06 L424.86,51.05 L425.47,51.05 L426.09,51.04 L426.70,51.03 L427.31,51.02 L427.92,51.01 L428.54,51.00 L429.15,51.00 L429.76,50.99 L430.37,50.98 L430.99,50.97 L431.60,50.96 L432.21,50.96 L432.82,50.95 L433.44,50.94 L434.05,50.93 L434.66,50.92 L435.27,50.91 L435.89,50.91 L436.50,50.90 L437.11,50.89 L437.72,50.88 L438.34,50.87 L438.95,50.87 L439.56,50.86 L440.17,50.85 L440.79,50.84 L441.40,50.83 L442.01,50.82 L442.62,50.82 L443.24,50.81 L443.85,50.80 L444.46,50.79 L445.07,50.78 L445.69,50.77 L446.30,50.77 L446.91,50.76 L447.52,50.75 L448.14,50.74 L448.75,50.73 L449.36,50.72 L449.97,50.72 L450.59,50.71 L451.20,50.70" stroke="#00f" stroke-width="2.15" stroke-dasharray="2.05 5.484" stroke-dashoffset="0.0"/>
</g>
<g font-family="'Liberation Serif', serif" font-size="11.5px" fill="#000">
<text x="33.10" y="306.6" text-anchor="middle">0</text>
<text x="74.96" y="306.6" text-anchor="middle">10</text>
<text x="116.82" y="306.6" text-anchor="middle">20</text>
<text x="158.68" y="306.6" text-anchor="middle">30</text>
<text x="200.54" y="306.6" text-anchor="middle">40</text>
<text x="242.40" y="306.6" text-anchor="middle">50</text>
<text x="284.26" y="306.6" text-anchor="middle">60</text>
<text x="326.12" y="306.6" text-anchor="middle">70</text>
<text x="367.98" y="306.6" text-anchor="middle">80</text>
<text x="409.84" y="306.6" text-anchor="middle">90</text>
<text x="451.70" y="306.6" text-anchor="middle">100</text>
<text x="29.0" y="298.30" text-anchor="end">0</text>
<text x="28.4" y="249.47" text-anchor="end">0.2</text>
<text x="28.4" y="200.63" text-anchor="end">0.4</text>
<text x="28.4" y="151.80" text-anchor="end">0.6</text>
<text x="28.4" y="102.97" text-anchor="end">0.8</text>
<text x="29.0" y="54.13" text-anchor="end">1</text>
</g>
<g font-family="'Liberation Sans', sans-serif" font-weight="bold" font-size="11.7px" fill="#000" stroke="#000" stroke-width="0.25">
<text x="218.7" y="323.9">r<tspan font-size="9px" dy="-7.2">2</tspan><tspan dy="7.2">(GeV</tspan><tspan font-size="9px" dy="-7.2">-2</tspan><tspan dy="7.2">)</tspan></text>
<text transform="translate(10.25,147.4) rotate(-90)" text-anchor="middle" font-size="12.4px">N</text>
<text x="356.4" y="240.85" font-size="11.5px">x = 10<tspan font-size="8.8px" dy="-6.1">-4</tspan></text>
</g>
<rect x="162.50" y="189.50" width="179.00" height="83.00" fill="#fff" stroke="#1c1c1c" stroke-width="1"/>
<path d="M167.30,197.55 H225.9" stroke="#000" stroke-width="1.5" fill="none"/>
<path d="M167.30,210.70 H225.9" stroke="#f00" stroke-width="1.45" fill="none" stroke-dasharray="1.255 3.766 8.787 3.766"/>
<path d="M167.30,227.30 H225.9" stroke="#f00" stroke-width="1.45" fill="none" stroke-dasharray="1.255 3.766 6.277 3.766 1.255 3.766"/>
<path d="M167.30,244.10 H225.9" stroke="#00f" stroke-width="1.5" fill="none" stroke-dasharray="6.260 3.756 1.252 3.756 6.260 3.756"/>
<path d="M167.45,260.80 H225.9" stroke="#00f" stroke-width="2.15" fill="none" stroke-dasharray="2.05 5.484"/>
<g font-family="'Liberation Serif', serif" font-size="11.7px" fill="#000">
<text x="234.8" y="201.5">IIM</text>
<text x="234.8" y="214.1">bCGC (b = 0)</text>
<text x="234.8" y="232.9">bCGC (b = 2 GeV<tspan font-size="8.7px" dy="-6.8" dx="0.5" letter-spacing="-1.1">-1</tspan><tspan dy="6.8" dx="1.65">)</tspan></text>
<text x="234.8" y="247.1">IP-SAT (b = 0)</text>
<text x="234.8" y="264.5">IP-SAT (b = 2 GeV<tspan font-size="8.7px" dy="-6.8" dx="0.5" letter-spacing="-1.1">-1</tspan><tspan dy="6.8" dx="1.65">)</tspan></text>
</g>
</svg>
</body></html>
